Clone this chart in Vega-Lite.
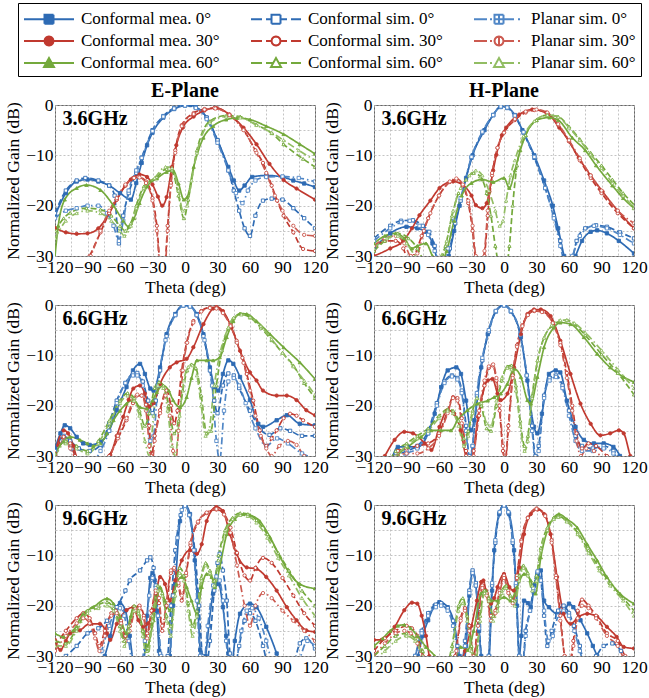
{
"$schema":"https://vega.github.io/schema/vega-lite/v6.json",
"background":"white",
"padding":{"left":4,"right":1,"top":2,"bottom":2},
"config":{
 "font":"Liberation Serif",
 "view":{"stroke":"#666","strokeWidth":1},
 "axis":{"labelFont":"Liberation Serif","labelFontSize":17.5,"labelColor":"black","titleFont":"Liberation Serif","titleFontSize":17.5,"titleFontWeight":"normal","titleColor":"black","gridColor":"#b5b5b5","gridDash":[2,2],"gridWidth":0.8,"domain":false,"ticks":false,"labelPadding":2,"titlePadding":3,"labelFlush":false,"labelOverlap":false}
},
"datasets":{
 "panels":[{"p":0,"plane":"E-Plane","freq":"3.6GHz"},{"p":1,"plane":"H-Plane","freq":"3.6GHz"},{"p":2,"plane":"E-Plane","freq":"6.6GHz"},{"p":3,"plane":"H-Plane","freq":"6.6GHz"},{"p":4,"plane":"E-Plane","freq":"9.6GHz"},{"p":5,"plane":"H-Plane","freq":"9.6GHz"}],
 "series":[{"s":0,"name":"Conformal mea. 0°","nm":"m0"},{"s":1,"name":"Conformal sim. 0°","nm":"c0"},{"s":2,"name":"Planar sim. 0°","nm":"p0"},{"s":3,"name":"Conformal mea. 30°","nm":"m30"},{"s":4,"name":"Conformal sim. 30°","nm":"c30"},{"s":5,"name":"Planar sim. 30°","nm":"p30"},{"s":6,"name":"Conformal mea. 60°","nm":"m60"},{"s":7,"name":"Conformal sim. 60°","nm":"c60"},{"s":8,"name":"Planar sim. 60°","nm":"p60"}],
 "pts":[
{"p":0,"s":0,"t":-120,"g":-22},{"p":0,"s":0,"t":-110,"g":-17.5},{"p":0,"s":0,"t":-100,"g":-15.2},{"p":0,"s":0,"t":-90,"g":-14.8},{"p":0,"s":0,"t":-80,"g":-15.2},{"p":0,"s":0,"t":-70,"g":-16},{"p":0,"s":0,"t":-60,"g":-17.5},{"p":0,"s":0,"t":-50,"g":-18.8},{"p":0,"s":0,"t":-45,"g":-15.5},{"p":0,"s":0,"t":-40,"g":-11.5},{"p":0,"s":0,"t":-35,"g":-8},{"p":0,"s":0,"t":-30,"g":-5.5},{"p":0,"s":0,"t":-20,"g":-2.5},{"p":0,"s":0,"t":-10,"g":-0.8},{"p":0,"s":0,"t":0,"g":-0.1},{"p":0,"s":0,"t":5,"g":0},{"p":0,"s":0,"t":10,"g":-0.4},{"p":0,"s":0,"t":20,"g":-2.5},{"p":0,"s":0,"t":30,"g":-7},{"p":0,"s":0,"t":40,"g":-12.3},{"p":0,"s":0,"t":45,"g":-15},{"p":0,"s":0,"t":50,"g":-17},{"p":0,"s":0,"t":55,"g":-16},{"p":0,"s":0,"t":62,"g":-14.3},{"p":0,"s":0,"t":75,"g":-14},{"p":0,"s":0,"t":90,"g":-14.3},{"p":0,"s":0,"t":100,"g":-15},{"p":0,"s":0,"t":110,"g":-15.6},{"p":0,"s":0,"t":120,"g":-16.3},
{"p":0,"s":1,"t":-120,"g":-21.5},{"p":0,"s":1,"t":-110,"g":-17},{"p":0,"s":1,"t":-100,"g":-15},{"p":0,"s":1,"t":-92,"g":-14.5},{"p":0,"s":1,"t":-80,"g":-15},{"p":0,"s":1,"t":-70,"g":-16},{"p":0,"s":1,"t":-65,"g":-18},{"p":0,"s":1,"t":-61,"g":-27.5},{"p":0,"s":1,"t":-57,"g":-22},{"p":0,"s":1,"t":-52,"g":-17.5},{"p":0,"s":1,"t":-45,"g":-13.5},{"p":0,"s":1,"t":-40,"g":-10.5},{"p":0,"s":1,"t":-30,"g":-5},{"p":0,"s":1,"t":-20,"g":-2.2},{"p":0,"s":1,"t":-10,"g":-0.6},{"p":0,"s":1,"t":0,"g":0},{"p":0,"s":1,"t":10,"g":-0.5},{"p":0,"s":1,"t":20,"g":-2.5},{"p":0,"s":1,"t":30,"g":-7},{"p":0,"s":1,"t":40,"g":-13},{"p":0,"s":1,"t":45,"g":-17},{"p":0,"s":1,"t":50,"g":-21},{"p":0,"s":1,"t":55,"g":-24.5},{"p":0,"s":1,"t":60,"g":-26},{"p":0,"s":1,"t":65,"g":-22},{"p":0,"s":1,"t":72,"g":-19},{"p":0,"s":1,"t":80,"g":-18.6},{"p":0,"s":1,"t":90,"g":-18.8},{"p":0,"s":1,"t":100,"g":-20.5},{"p":0,"s":1,"t":110,"g":-22.5},{"p":0,"s":1,"t":120,"g":-24.5},
{"p":0,"s":2,"t":-120,"g":-22.5},{"p":0,"s":2,"t":-110,"g":-21},{"p":0,"s":2,"t":-100,"g":-20.5},{"p":0,"s":2,"t":-90,"g":-20},{"p":0,"s":2,"t":-80,"g":-20},{"p":0,"s":2,"t":-72,"g":-21.5},{"p":0,"s":2,"t":-66,"g":-24},{"p":0,"s":2,"t":-61,"g":-27},{"p":0,"s":2,"t":-57,"g":-23},{"p":0,"s":2,"t":-52,"g":-17},{"p":0,"s":2,"t":-45,"g":-13},{"p":0,"s":2,"t":-40,"g":-10.5},{"p":0,"s":2,"t":-30,"g":-5.2},{"p":0,"s":2,"t":-20,"g":-2.3},{"p":0,"s":2,"t":-10,"g":-0.7},{"p":0,"s":2,"t":0,"g":-0.1},{"p":0,"s":2,"t":10,"g":-0.6},{"p":0,"s":2,"t":20,"g":-2.8},{"p":0,"s":2,"t":30,"g":-7.5},{"p":0,"s":2,"t":40,"g":-13},{"p":0,"s":2,"t":47,"g":-17.5},{"p":0,"s":2,"t":53,"g":-19.5},{"p":0,"s":2,"t":58,"g":-17},{"p":0,"s":2,"t":65,"g":-15},{"p":0,"s":2,"t":75,"g":-14.3},{"p":0,"s":2,"t":90,"g":-14.2},{"p":0,"s":2,"t":105,"g":-14.5},{"p":0,"s":2,"t":120,"g":-15.2},
{"p":0,"s":3,"t":-120,"g":-24.4},{"p":0,"s":3,"t":-110,"g":-25.3},{"p":0,"s":3,"t":-100,"g":-25.6},{"p":0,"s":3,"t":-90,"g":-25.5},{"p":0,"s":3,"t":-80,"g":-24.5},{"p":0,"s":3,"t":-70,"g":-21.5},{"p":0,"s":3,"t":-63,"g":-18.8},{"p":0,"s":3,"t":-55,"g":-16},{"p":0,"s":3,"t":-50,"g":-14.8},{"p":0,"s":3,"t":-42,"g":-13.8},{"p":0,"s":3,"t":-35,"g":-14.3},{"p":0,"s":3,"t":-30,"g":-15.8},{"p":0,"s":3,"t":-25,"g":-18.2},{"p":0,"s":3,"t":-21,"g":-20},{"p":0,"s":3,"t":-17,"g":-18.3},{"p":0,"s":3,"t":-12,"g":-12.3},{"p":0,"s":3,"t":-8,"g":-8},{"p":0,"s":3,"t":-2,"g":-4.5},{"p":0,"s":3,"t":8,"g":-2.3},{"p":0,"s":3,"t":18,"g":-1.1},{"p":0,"s":3,"t":29,"g":-0.6},{"p":0,"s":3,"t":41,"g":-1.9},{"p":0,"s":3,"t":54,"g":-4.5},{"p":0,"s":3,"t":66,"g":-7.8},{"p":0,"s":3,"t":78,"g":-11.7},{"p":0,"s":3,"t":91,"g":-14.9},{"p":0,"s":3,"t":103,"g":-16.6},{"p":0,"s":3,"t":120,"g":-18.8},
{"p":0,"s":4,"t":-120,"g":-34},{"p":0,"s":4,"t":-95,"g":-33},{"p":0,"s":4,"t":-88,"g":-30},{"p":0,"s":4,"t":-78,"g":-25.3},{"p":0,"s":4,"t":-70,"g":-21.5},{"p":0,"s":4,"t":-63,"g":-18.8},{"p":0,"s":4,"t":-55,"g":-16},{"p":0,"s":4,"t":-48,"g":-14.5},{"p":0,"s":4,"t":-43,"g":-14.3},{"p":0,"s":4,"t":-36,"g":-15.2},{"p":0,"s":4,"t":-30,"g":-18.5},{"p":0,"s":4,"t":-26,"g":-24},{"p":0,"s":4,"t":-23,"g":-31},{"p":0,"s":4,"t":-19,"g":-32},{"p":0,"s":4,"t":-16,"g":-24},{"p":0,"s":4,"t":-13,"g":-15.5},{"p":0,"s":4,"t":-9,"g":-9},{"p":0,"s":4,"t":-3,"g":-4},{"p":0,"s":4,"t":8,"g":-1.6},{"p":0,"s":4,"t":18,"g":-0.8},{"p":0,"s":4,"t":27,"g":-0.6},{"p":0,"s":4,"t":41,"g":-1.9},{"p":0,"s":4,"t":54,"g":-4.9},{"p":0,"s":4,"t":65,"g":-9},{"p":0,"s":4,"t":72,"g":-11.5},{"p":0,"s":4,"t":80,"g":-16},{"p":0,"s":4,"t":85,"g":-19},{"p":0,"s":4,"t":91,"g":-22},{"p":0,"s":4,"t":100,"g":-25.3},{"p":0,"s":4,"t":109,"g":-28.6},{"p":0,"s":4,"t":120,"g":-29},
{"p":0,"s":5,"t":-120,"g":-35},{"p":0,"s":5,"t":-95,"g":-34},{"p":0,"s":5,"t":-87,"g":-30},{"p":0,"s":5,"t":-78,"g":-25},{"p":0,"s":5,"t":-70,"g":-21},{"p":0,"s":5,"t":-63,"g":-18.5},{"p":0,"s":5,"t":-55,"g":-15.8},{"p":0,"s":5,"t":-47,"g":-14.5},{"p":0,"s":5,"t":-42,"g":-14.4},{"p":0,"s":5,"t":-36,"g":-15.5},{"p":0,"s":5,"t":-30,"g":-19},{"p":0,"s":5,"t":-26,"g":-25},{"p":0,"s":5,"t":-23,"g":-32},{"p":0,"s":5,"t":-19,"g":-33},{"p":0,"s":5,"t":-16,"g":-25},{"p":0,"s":5,"t":-13,"g":-16},{"p":0,"s":5,"t":-9,"g":-9.5},{"p":0,"s":5,"t":-3,"g":-4.2},{"p":0,"s":5,"t":8,"g":-1.8},{"p":0,"s":5,"t":18,"g":-0.9},{"p":0,"s":5,"t":28,"g":-0.7},{"p":0,"s":5,"t":41,"g":-2},{"p":0,"s":5,"t":54,"g":-5},{"p":0,"s":5,"t":66,"g":-9.5},{"p":0,"s":5,"t":75,"g":-13.5},{"p":0,"s":5,"t":83,"g":-18},{"p":0,"s":5,"t":90,"g":-21},{"p":0,"s":5,"t":100,"g":-24},{"p":0,"s":5,"t":110,"g":-25.8},{"p":0,"s":5,"t":120,"g":-26},
{"p":0,"s":6,"t":-120,"g":-30},{"p":0,"s":6,"t":-117,"g":-24},{"p":0,"s":6,"t":-111,"g":-18.8},{"p":0,"s":6,"t":-100,"g":-16.5},{"p":0,"s":6,"t":-91,"g":-15.9},{"p":0,"s":6,"t":-78,"g":-16.9},{"p":0,"s":6,"t":-66,"g":-20},{"p":0,"s":6,"t":-57,"g":-23},{"p":0,"s":6,"t":-52,"g":-24.2},{"p":0,"s":6,"t":-47,"g":-22.5},{"p":0,"s":6,"t":-42,"g":-19.5},{"p":0,"s":6,"t":-35,"g":-16.2},{"p":0,"s":6,"t":-26,"g":-14.6},{"p":0,"s":6,"t":-17,"g":-13.3},{"p":0,"s":6,"t":-11,"g":-13},{"p":0,"s":6,"t":-6,"g":-15.6},{"p":0,"s":6,"t":-1,"g":-18.8},{"p":0,"s":6,"t":2,"g":-18.3},{"p":0,"s":6,"t":8,"g":-12.3},{"p":0,"s":6,"t":17,"g":-6.5},{"p":0,"s":6,"t":26,"g":-4.2},{"p":0,"s":6,"t":38,"g":-2.9},{"p":0,"s":6,"t":48,"g":-2.6},{"p":0,"s":6,"t":60,"g":-2.9},{"p":0,"s":6,"t":75,"g":-4.2},{"p":0,"s":6,"t":91,"g":-5.8},{"p":0,"s":6,"t":106,"g":-7.8},{"p":0,"s":6,"t":120,"g":-9.7},
{"p":0,"s":7,"t":-120,"g":-25},{"p":0,"s":7,"t":-112,"g":-22.5},{"p":0,"s":7,"t":-106,"g":-21.4},{"p":0,"s":7,"t":-91,"g":-20.5},{"p":0,"s":7,"t":-78,"g":-20.8},{"p":0,"s":7,"t":-68,"g":-22},{"p":0,"s":7,"t":-60,"g":-24},{"p":0,"s":7,"t":-55,"g":-25},{"p":0,"s":7,"t":-50,"g":-23.5},{"p":0,"s":7,"t":-45,"g":-20},{"p":0,"s":7,"t":-38,"g":-16.2},{"p":0,"s":7,"t":-26,"g":-14.3},{"p":0,"s":7,"t":-17,"g":-12.7},{"p":0,"s":7,"t":-12,"g":-13},{"p":0,"s":7,"t":-6,"g":-18},{"p":0,"s":7,"t":-1,"g":-22.5},{"p":0,"s":7,"t":3,"g":-18.8},{"p":0,"s":7,"t":11,"g":-9},{"p":0,"s":7,"t":23,"g":-3.2},{"p":0,"s":7,"t":38,"g":-2.1},{"p":0,"s":7,"t":51,"g":-2.3},{"p":0,"s":7,"t":66,"g":-3.9},{"p":0,"s":7,"t":80,"g":-5.6},{"p":0,"s":7,"t":91,"g":-7.8},{"p":0,"s":7,"t":109,"g":-10.7},{"p":0,"s":7,"t":120,"g":-12.3},
{"p":0,"s":8,"t":-120,"g":-26.5},{"p":0,"s":8,"t":-110,"g":-23},{"p":0,"s":8,"t":-100,"g":-21.5},{"p":0,"s":8,"t":-90,"g":-21},{"p":0,"s":8,"t":-78,"g":-21.5},{"p":0,"s":8,"t":-68,"g":-23},{"p":0,"s":8,"t":-60,"g":-25},{"p":0,"s":8,"t":-56,"g":-26},{"p":0,"s":8,"t":-50,"g":-24},{"p":0,"s":8,"t":-45,"g":-20.5},{"p":0,"s":8,"t":-38,"g":-16.5},{"p":0,"s":8,"t":-28,"g":-14.5},{"p":0,"s":8,"t":-18,"g":-12.3},{"p":0,"s":8,"t":-12,"g":-12.5},{"p":0,"s":8,"t":-6,"g":-17},{"p":0,"s":8,"t":-2,"g":-21},{"p":0,"s":8,"t":2,"g":-20},{"p":0,"s":8,"t":6,"g":-15},{"p":0,"s":8,"t":11,"g":-9.5},{"p":0,"s":8,"t":23,"g":-3.5},{"p":0,"s":8,"t":38,"g":-2.3},{"p":0,"s":8,"t":51,"g":-2.5},{"p":0,"s":8,"t":66,"g":-4},{"p":0,"s":8,"t":80,"g":-5.5},{"p":0,"s":8,"t":91,"g":-7},{"p":0,"s":8,"t":105,"g":-9},{"p":0,"s":8,"t":120,"g":-11},
{"p":1,"s":0,"t":-120,"g":-28.5},{"p":1,"s":0,"t":-105,"g":-25.5},{"p":1,"s":0,"t":-90,"g":-24.2},{"p":1,"s":0,"t":-80,"g":-24.5},{"p":1,"s":0,"t":-72,"g":-25.2},{"p":1,"s":0,"t":-66,"g":-27.5},{"p":1,"s":0,"t":-61,"g":-31},{"p":1,"s":0,"t":-55,"g":-33},{"p":1,"s":0,"t":-51,"g":-30},{"p":1,"s":0,"t":-46,"g":-25},{"p":1,"s":0,"t":-41,"g":-20},{"p":1,"s":0,"t":-35,"g":-14.5},{"p":1,"s":0,"t":-29,"g":-10},{"p":1,"s":0,"t":-18,"g":-5},{"p":1,"s":0,"t":-10,"g":-2},{"p":1,"s":0,"t":-3,"g":-0.3},{"p":1,"s":0,"t":3,"g":-0.5},{"p":1,"s":0,"t":10,"g":-2},{"p":1,"s":0,"t":17,"g":-5},{"p":1,"s":0,"t":28,"g":-10},{"p":1,"s":0,"t":37,"g":-15},{"p":1,"s":0,"t":45,"g":-20},{"p":1,"s":0,"t":50,"g":-24.5},{"p":1,"s":0,"t":55.5,"g":-30},{"p":1,"s":0,"t":60,"g":-33},{"p":1,"s":0,"t":66,"g":-30},{"p":1,"s":0,"t":72,"g":-27},{"p":1,"s":0,"t":80,"g":-25.2},{"p":1,"s":0,"t":86,"g":-24.9},{"p":1,"s":0,"t":95,"g":-25.5},{"p":1,"s":0,"t":106,"g":-27},{"p":1,"s":0,"t":120,"g":-29.5},
{"p":1,"s":1,"t":-120,"g":-26.5},{"p":1,"s":1,"t":-105,"g":-24},{"p":1,"s":1,"t":-95,"g":-23},{"p":1,"s":1,"t":-84,"g":-22.9},{"p":1,"s":1,"t":-75,"g":-24},{"p":1,"s":1,"t":-69,"g":-25.2},{"p":1,"s":1,"t":-64,"g":-28},{"p":1,"s":1,"t":-60,"g":-31},{"p":1,"s":1,"t":-55,"g":-32},{"p":1,"s":1,"t":-50,"g":-28.5},{"p":1,"s":1,"t":-45,"g":-23.5},{"p":1,"s":1,"t":-40,"g":-19},{"p":1,"s":1,"t":-30,"g":-10.5},{"p":1,"s":1,"t":-20,"g":-5.5},{"p":1,"s":1,"t":-10,"g":-2},{"p":1,"s":1,"t":-3,"g":-0.4},{"p":1,"s":1,"t":3,"g":-0.6},{"p":1,"s":1,"t":10,"g":-2.2},{"p":1,"s":1,"t":18,"g":-5.5},{"p":1,"s":1,"t":28,"g":-10.5},{"p":1,"s":1,"t":38,"g":-16.5},{"p":1,"s":1,"t":46,"g":-22},{"p":1,"s":1,"t":52,"g":-27},{"p":1,"s":1,"t":57,"g":-31},{"p":1,"s":1,"t":62,"g":-31},{"p":1,"s":1,"t":67,"g":-27},{"p":1,"s":1,"t":75,"g":-24.5},{"p":1,"s":1,"t":85,"g":-23.9},{"p":1,"s":1,"t":95,"g":-24.2},{"p":1,"s":1,"t":107,"g":-25.3},{"p":1,"s":1,"t":120,"g":-26.5},
{"p":1,"s":2,"t":-120,"g":-27},{"p":1,"s":2,"t":-105,"g":-24.5},{"p":1,"s":2,"t":-95,"g":-23.3},{"p":1,"s":2,"t":-87,"g":-23},{"p":1,"s":2,"t":-78,"g":-24},{"p":1,"s":2,"t":-70,"g":-25.8},{"p":1,"s":2,"t":-64,"g":-29},{"p":1,"s":2,"t":-58,"g":-32},{"p":1,"s":2,"t":-52,"g":-28.5},{"p":1,"s":2,"t":-46,"g":-23},{"p":1,"s":2,"t":-40,"g":-18.5},{"p":1,"s":2,"t":-30,"g":-10.3},{"p":1,"s":2,"t":-20,"g":-5.3},{"p":1,"s":2,"t":-10,"g":-2},{"p":1,"s":2,"t":-3,"g":-0.3},{"p":1,"s":2,"t":3,"g":-0.5},{"p":1,"s":2,"t":10,"g":-2.1},{"p":1,"s":2,"t":18,"g":-5.4},{"p":1,"s":2,"t":28,"g":-10.3},{"p":1,"s":2,"t":38,"g":-16.5},{"p":1,"s":2,"t":46,"g":-22.5},{"p":1,"s":2,"t":52,"g":-28},{"p":1,"s":2,"t":57,"g":-32},{"p":1,"s":2,"t":63,"g":-30},{"p":1,"s":2,"t":70,"g":-26},{"p":1,"s":2,"t":83,"g":-24},{"p":1,"s":2,"t":95,"g":-24.5},{"p":1,"s":2,"t":107,"g":-25.8},{"p":1,"s":2,"t":120,"g":-27.5},
{"p":1,"s":3,"t":-120,"g":-30},{"p":1,"s":3,"t":-105,"g":-28.5},{"p":1,"s":3,"t":-93,"g":-27},{"p":1,"s":3,"t":-85,"g":-24.5},{"p":1,"s":3,"t":-78,"g":-21.9},{"p":1,"s":3,"t":-68,"g":-19},{"p":1,"s":3,"t":-59.5,"g":-16.5},{"p":1,"s":3,"t":-47,"g":-15.2},{"p":1,"s":3,"t":-38,"g":-15.9},{"p":1,"s":3,"t":-30,"g":-18},{"p":1,"s":3,"t":-26,"g":-19.9},{"p":1,"s":3,"t":-20,"g":-20.5},{"p":1,"s":3,"t":-16,"g":-19.5},{"p":1,"s":3,"t":-13.5,"g":-17.2},{"p":1,"s":3,"t":-10,"g":-13},{"p":1,"s":3,"t":-7,"g":-9.9},{"p":1,"s":3,"t":-2,"g":-6},{"p":1,"s":3,"t":2,"g":-4.5},{"p":1,"s":3,"t":14,"g":-1.9},{"p":1,"s":3,"t":26,"g":-0.9},{"p":1,"s":3,"t":39,"g":-1.5},{"p":1,"s":3,"t":51,"g":-4.5},{"p":1,"s":3,"t":60,"g":-7.2},{"p":1,"s":3,"t":69,"g":-10.5},{"p":1,"s":3,"t":80,"g":-14},{"p":1,"s":3,"t":91,"g":-17.2},{"p":1,"s":3,"t":105,"g":-21},{"p":1,"s":3,"t":120,"g":-24.5},
{"p":1,"s":4,"t":-120,"g":-29},{"p":1,"s":4,"t":-110,"g":-27},{"p":1,"s":4,"t":-100,"g":-27},{"p":1,"s":4,"t":-93,"g":-28.5},{"p":1,"s":4,"t":-88,"g":-31},{"p":1,"s":4,"t":-83,"g":-30},{"p":1,"s":4,"t":-76,"g":-26},{"p":1,"s":4,"t":-70,"g":-22.5},{"p":1,"s":4,"t":-60,"g":-18},{"p":1,"s":4,"t":-50,"g":-15.3},{"p":1,"s":4,"t":-44,"g":-14.8},{"p":1,"s":4,"t":-38,"g":-16},{"p":1,"s":4,"t":-33,"g":-19.5},{"p":1,"s":4,"t":-29,"g":-25},{"p":1,"s":4,"t":-26,"g":-31},{"p":1,"s":4,"t":-22,"g":-33},{"p":1,"s":4,"t":-18,"g":-30},{"p":1,"s":4,"t":-15,"g":-22},{"p":1,"s":4,"t":-11,"g":-14},{"p":1,"s":4,"t":-6,"g":-8.5},{"p":1,"s":4,"t":0,"g":-5.5},{"p":1,"s":4,"t":10,"g":-3},{"p":1,"s":4,"t":20,"g":-1.5},{"p":1,"s":4,"t":28,"g":-1},{"p":1,"s":4,"t":40,"g":-1.6},{"p":1,"s":4,"t":50,"g":-4},{"p":1,"s":4,"t":60,"g":-7.2},{"p":1,"s":4,"t":70,"g":-11},{"p":1,"s":4,"t":80,"g":-14.5},{"p":1,"s":4,"t":90,"g":-17.5},{"p":1,"s":4,"t":105,"g":-21.5},{"p":1,"s":4,"t":120,"g":-24.5},
{"p":1,"s":5,"t":-120,"g":-28},{"p":1,"s":5,"t":-110,"g":-26.5},{"p":1,"s":5,"t":-100,"g":-26},{"p":1,"s":5,"t":-92,"g":-27.5},{"p":1,"s":5,"t":-86,"g":-30},{"p":1,"s":5,"t":-80,"g":-29.5},{"p":1,"s":5,"t":-74,"g":-25},{"p":1,"s":5,"t":-68,"g":-21.5},{"p":1,"s":5,"t":-60,"g":-18},{"p":1,"s":5,"t":-50,"g":-15.2},{"p":1,"s":5,"t":-44,"g":-14.6},{"p":1,"s":5,"t":-38,"g":-15.8},{"p":1,"s":5,"t":-33,"g":-19},{"p":1,"s":5,"t":-29,"g":-24},{"p":1,"s":5,"t":-26,"g":-30},{"p":1,"s":5,"t":-22,"g":-32},{"p":1,"s":5,"t":-18,"g":-29},{"p":1,"s":5,"t":-15,"g":-21},{"p":1,"s":5,"t":-11,"g":-13.5},{"p":1,"s":5,"t":-6,"g":-8.5},{"p":1,"s":5,"t":0,"g":-5.5},{"p":1,"s":5,"t":10,"g":-2.8},{"p":1,"s":5,"t":20,"g":-1.3},{"p":1,"s":5,"t":30,"g":-0.9},{"p":1,"s":5,"t":40,"g":-1.5},{"p":1,"s":5,"t":50,"g":-3.8},{"p":1,"s":5,"t":60,"g":-7},{"p":1,"s":5,"t":70,"g":-10.6},{"p":1,"s":5,"t":80,"g":-14},{"p":1,"s":5,"t":90,"g":-17},{"p":1,"s":5,"t":105,"g":-21},{"p":1,"s":5,"t":120,"g":-23.5},
{"p":1,"s":6,"t":-120,"g":-27.5},{"p":1,"s":6,"t":-110,"g":-26},{"p":1,"s":6,"t":-100,"g":-25.5},{"p":1,"s":6,"t":-92,"g":-26.5},{"p":1,"s":6,"t":-85,"g":-28.5},{"p":1,"s":6,"t":-80,"g":-28},{"p":1,"s":6,"t":-72,"g":-27.5},{"p":1,"s":6,"t":-66,"g":-30},{"p":1,"s":6,"t":-60,"g":-32},{"p":1,"s":6,"t":-53,"g":-29},{"p":1,"s":6,"t":-46,"g":-23},{"p":1,"s":6,"t":-39,"g":-18},{"p":1,"s":6,"t":-30,"g":-15.5},{"p":1,"s":6,"t":-20,"g":-14.8},{"p":1,"s":6,"t":-10,"g":-15.3},{"p":1,"s":6,"t":0,"g":-14.5},{"p":1,"s":6,"t":5,"g":-16.5},{"p":1,"s":6,"t":10,"g":-13},{"p":1,"s":6,"t":15,"g":-9},{"p":1,"s":6,"t":20,"g":-6},{"p":1,"s":6,"t":30,"g":-3},{"p":1,"s":6,"t":42,"g":-2.5},{"p":1,"s":6,"t":50,"g":-3},{"p":1,"s":6,"t":63,"g":-6.5},{"p":1,"s":6,"t":75,"g":-9},{"p":1,"s":6,"t":85,"g":-12},{"p":1,"s":6,"t":100,"g":-16},{"p":1,"s":6,"t":110,"g":-18.5},{"p":1,"s":6,"t":120,"g":-20.5},
{"p":1,"s":7,"t":-120,"g":-29},{"p":1,"s":7,"t":-110,"g":-27},{"p":1,"s":7,"t":-98,"g":-25.5},{"p":1,"s":7,"t":-88,"g":-26.5},{"p":1,"s":7,"t":-80,"g":-28.5},{"p":1,"s":7,"t":-74,"g":-31},{"p":1,"s":7,"t":-66,"g":-33},{"p":1,"s":7,"t":-58,"g":-31},{"p":1,"s":7,"t":-54,"g":-28},{"p":1,"s":7,"t":-48,"g":-22},{"p":1,"s":7,"t":-42,"g":-17.5},{"p":1,"s":7,"t":-35,"g":-14.8},{"p":1,"s":7,"t":-28,"g":-13.5},{"p":1,"s":7,"t":-22,"g":-14.2},{"p":1,"s":7,"t":-16,"g":-17.5},{"p":1,"s":7,"t":-12,"g":-22},{"p":1,"s":7,"t":-8,"g":-28},{"p":1,"s":7,"t":-4,"g":-32},{"p":1,"s":7,"t":2,"g":-32},{"p":1,"s":7,"t":5,"g":-28},{"p":1,"s":7,"t":8,"g":-20},{"p":1,"s":7,"t":12,"g":-12},{"p":1,"s":7,"t":20,"g":-6},{"p":1,"s":7,"t":30,"g":-3},{"p":1,"s":7,"t":40,"g":-2},{"p":1,"s":7,"t":50,"g":-2.3},{"p":1,"s":7,"t":60,"g":-4.3},{"p":1,"s":7,"t":70,"g":-6.8},{"p":1,"s":7,"t":80,"g":-9.5},{"p":1,"s":7,"t":90,"g":-12},{"p":1,"s":7,"t":100,"g":-14.8},{"p":1,"s":7,"t":110,"g":-17.5},{"p":1,"s":7,"t":120,"g":-19.8},
{"p":1,"s":8,"t":-120,"g":-28.5},{"p":1,"s":8,"t":-108,"g":-26.5},{"p":1,"s":8,"t":-98,"g":-26},{"p":1,"s":8,"t":-90,"g":-27.5},{"p":1,"s":8,"t":-82,"g":-30},{"p":1,"s":8,"t":-74,"g":-32},{"p":1,"s":8,"t":-66,"g":-32},{"p":1,"s":8,"t":-58,"g":-30},{"p":1,"s":8,"t":-53,"g":-27},{"p":1,"s":8,"t":-47,"g":-21},{"p":1,"s":8,"t":-40,"g":-16.5},{"p":1,"s":8,"t":-32,"g":-14},{"p":1,"s":8,"t":-26,"g":-13},{"p":1,"s":8,"t":-20,"g":-14},{"p":1,"s":8,"t":-14,"g":-17},{"p":1,"s":8,"t":-8,"g":-21},{"p":1,"s":8,"t":-4,"g":-24},{"p":1,"s":8,"t":-1,"g":-23},{"p":1,"s":8,"t":2,"g":-19},{"p":1,"s":8,"t":6,"g":-14},{"p":1,"s":8,"t":10,"g":-11},{"p":1,"s":8,"t":18,"g":-6.2},{"p":1,"s":8,"t":28,"g":-3.2},{"p":1,"s":8,"t":40,"g":-2},{"p":1,"s":8,"t":50,"g":-2.4},{"p":1,"s":8,"t":60,"g":-4.5},{"p":1,"s":8,"t":70,"g":-7},{"p":1,"s":8,"t":80,"g":-9.8},{"p":1,"s":8,"t":90,"g":-12.5},{"p":1,"s":8,"t":100,"g":-15.5},{"p":1,"s":8,"t":110,"g":-18},{"p":1,"s":8,"t":120,"g":-20.5},
{"p":2,"s":0,"t":-120,"g":-28.5},{"p":2,"s":0,"t":-115,"g":-25.5},{"p":2,"s":0,"t":-111,"g":-23.9},{"p":2,"s":0,"t":-106,"g":-24.5},{"p":2,"s":0,"t":-100,"g":-26.2},{"p":2,"s":0,"t":-94,"g":-27.5},{"p":2,"s":0,"t":-88,"g":-27.8},{"p":2,"s":0,"t":-78,"g":-27.2},{"p":2,"s":0,"t":-70,"g":-25},{"p":2,"s":0,"t":-63,"g":-20.9},{"p":2,"s":0,"t":-54,"g":-16.3},{"p":2,"s":0,"t":-48,"g":-13},{"p":2,"s":0,"t":-41.5,"g":-11.7},{"p":2,"s":0,"t":-37,"g":-13.7},{"p":2,"s":0,"t":-32,"g":-16.6},{"p":2,"s":0,"t":-29,"g":-17},{"p":2,"s":0,"t":-23,"g":-12.4},{"p":2,"s":0,"t":-17,"g":-5.8},{"p":2,"s":0,"t":-9,"g":-1.8},{"p":2,"s":0,"t":-1.5,"g":0},{"p":2,"s":0,"t":4.6,"g":-0.2},{"p":2,"s":0,"t":10.8,"g":-1.8},{"p":2,"s":0,"t":17,"g":-5.8},{"p":2,"s":0,"t":23,"g":-12.4},{"p":2,"s":0,"t":27.7,"g":-16.3},{"p":2,"s":0,"t":30.8,"g":-17},{"p":2,"s":0,"t":35,"g":-13.7},{"p":2,"s":0,"t":40,"g":-11},{"p":2,"s":0,"t":44.6,"g":-11.7},{"p":2,"s":0,"t":50.8,"g":-14.3},{"p":2,"s":0,"t":60,"g":-18.9},{"p":2,"s":0,"t":67.7,"g":-23.6},{"p":2,"s":0,"t":72,"g":-24.2},{"p":2,"s":0,"t":84.6,"g":-22.9},{"p":2,"s":0,"t":94,"g":-21.9},{"p":2,"s":0,"t":106,"g":-23.6},{"p":2,"s":0,"t":120,"g":-23.9},
{"p":2,"s":1,"t":-120,"g":-29},{"p":2,"s":1,"t":-112,"g":-26},{"p":2,"s":1,"t":-106,"g":-27},{"p":2,"s":1,"t":-98,"g":-28.5},{"p":2,"s":1,"t":-88,"g":-29},{"p":2,"s":1,"t":-78,"g":-27.8},{"p":2,"s":1,"t":-70,"g":-23.5},{"p":2,"s":1,"t":-63,"g":-19},{"p":2,"s":1,"t":-55,"g":-15.5},{"p":2,"s":1,"t":-48,"g":-13.6},{"p":2,"s":1,"t":-44,"g":-13.5},{"p":2,"s":1,"t":-39,"g":-15.2},{"p":2,"s":1,"t":-34,"g":-19},{"p":2,"s":1,"t":-30,"g":-21.5},{"p":2,"s":1,"t":-27,"g":-19},{"p":2,"s":1,"t":-23,"g":-13},{"p":2,"s":1,"t":-17,"g":-6.2},{"p":2,"s":1,"t":-9,"g":-2},{"p":2,"s":1,"t":-1.5,"g":-0.1},{"p":2,"s":1,"t":4.6,"g":-0.3},{"p":2,"s":1,"t":10.8,"g":-2},{"p":2,"s":1,"t":17,"g":-6.2},{"p":2,"s":1,"t":23,"g":-13},{"p":2,"s":1,"t":27,"g":-19},{"p":2,"s":1,"t":30,"g":-21.5},{"p":2,"s":1,"t":35,"g":-16},{"p":2,"s":1,"t":40,"g":-13.6},{"p":2,"s":1,"t":45,"g":-14},{"p":2,"s":1,"t":50,"g":-16.5},{"p":2,"s":1,"t":60,"g":-21},{"p":2,"s":1,"t":70,"g":-24.8},{"p":2,"s":1,"t":78,"g":-25.8},{"p":2,"s":1,"t":88,"g":-24.5},{"p":2,"s":1,"t":97,"g":-25},{"p":2,"s":1,"t":108,"g":-26},{"p":2,"s":1,"t":120,"g":-26},
{"p":2,"s":2,"t":-120,"g":-30},{"p":2,"s":2,"t":-112,"g":-27},{"p":2,"s":2,"t":-105,"g":-28.5},{"p":2,"s":2,"t":-95,"g":-31},{"p":2,"s":2,"t":-85,"g":-31},{"p":2,"s":2,"t":-78,"g":-29},{"p":2,"s":2,"t":-70,"g":-25},{"p":2,"s":2,"t":-63,"g":-19.5},{"p":2,"s":2,"t":-55,"g":-15.5},{"p":2,"s":2,"t":-48,"g":-14},{"p":2,"s":2,"t":-44,"g":-14},{"p":2,"s":2,"t":-39,"g":-16},{"p":2,"s":2,"t":-35,"g":-21},{"p":2,"s":2,"t":-32,"g":-27},{"p":2,"s":2,"t":-29,"g":-26},{"p":2,"s":2,"t":-25,"g":-16},{"p":2,"s":2,"t":-18,"g":-7},{"p":2,"s":2,"t":-9,"g":-2},{"p":2,"s":2,"t":-1.5,"g":-0.1},{"p":2,"s":2,"t":4.6,"g":-0.3},{"p":2,"s":2,"t":10.8,"g":-2},{"p":2,"s":2,"t":18,"g":-7},{"p":2,"s":2,"t":25,"g":-16},{"p":2,"s":2,"t":29,"g":-27},{"p":2,"s":2,"t":32,"g":-31},{"p":2,"s":2,"t":36,"g":-21},{"p":2,"s":2,"t":40,"g":-15.2},{"p":2,"s":2,"t":45,"g":-14.5},{"p":2,"s":2,"t":50,"g":-16},{"p":2,"s":2,"t":56,"g":-19.5},{"p":2,"s":2,"t":65,"g":-24.5},{"p":2,"s":2,"t":75,"g":-28},{"p":2,"s":2,"t":85,"g":-26.5},{"p":2,"s":2,"t":95,"g":-27.5},{"p":2,"s":2,"t":108,"g":-29.5},{"p":2,"s":2,"t":120,"g":-30.5},
{"p":2,"s":3,"t":-120,"g":-29.5},{"p":2,"s":3,"t":-112,"g":-24.9},{"p":2,"s":3,"t":-108,"g":-25.5},{"p":2,"s":3,"t":-103,"g":-28},{"p":2,"s":3,"t":-99,"g":-31},{"p":2,"s":3,"t":-90,"g":-33},{"p":2,"s":3,"t":-80,"g":-32},{"p":2,"s":3,"t":-69,"g":-29.8},{"p":2,"s":3,"t":-63,"g":-26},{"p":2,"s":3,"t":-57,"g":-22.2},{"p":2,"s":3,"t":-52,"g":-18.8},{"p":2,"s":3,"t":-47.7,"g":-16.6},{"p":2,"s":3,"t":-41.5,"g":-16},{"p":2,"s":3,"t":-37,"g":-17.6},{"p":2,"s":3,"t":-33,"g":-20.2},{"p":2,"s":3,"t":-29,"g":-19.5},{"p":2,"s":3,"t":-23,"g":-15.7},{"p":2,"s":3,"t":-14,"g":-12.4},{"p":2,"s":3,"t":-7.7,"g":-11.4},{"p":2,"s":3,"t":1.5,"g":-10.7},{"p":2,"s":3,"t":7.7,"g":-8.4},{"p":2,"s":3,"t":17,"g":-3.8},{"p":2,"s":3,"t":26,"g":-0.7},{"p":2,"s":3,"t":29,"g":-0.4},{"p":2,"s":3,"t":35,"g":-1.2},{"p":2,"s":3,"t":43,"g":-4.5},{"p":2,"s":3,"t":50.8,"g":-9.1},{"p":2,"s":3,"t":60,"g":-13.4},{"p":2,"s":3,"t":66,"g":-15},{"p":2,"s":3,"t":72,"g":-17},{"p":2,"s":3,"t":84.6,"g":-18},{"p":2,"s":3,"t":94,"g":-18},{"p":2,"s":3,"t":103,"g":-18.9},{"p":2,"s":3,"t":112,"g":-20.9},{"p":2,"s":3,"t":120,"g":-21.9},
{"p":2,"s":4,"t":-120,"g":-30},{"p":2,"s":4,"t":-112,"g":-26.2},{"p":2,"s":4,"t":-106,"g":-27.5},{"p":2,"s":4,"t":-101.5,"g":-30},{"p":2,"s":4,"t":-95,"g":-33},{"p":2,"s":4,"t":-80,"g":-33},{"p":2,"s":4,"t":-70,"g":-30},{"p":2,"s":4,"t":-62,"g":-26.5},{"p":2,"s":4,"t":-54,"g":-22.9},{"p":2,"s":4,"t":-48,"g":-19.5},{"p":2,"s":4,"t":-44.6,"g":-18},{"p":2,"s":4,"t":-40,"g":-18},{"p":2,"s":4,"t":-36,"g":-19.8},{"p":2,"s":4,"t":-33,"g":-24},{"p":2,"s":4,"t":-31,"g":-30},{"p":2,"s":4,"t":-28,"g":-26},{"p":2,"s":4,"t":-23,"g":-20.9},{"p":2,"s":4,"t":-17,"g":-17},{"p":2,"s":4,"t":-13,"g":-20},{"p":2,"s":4,"t":-10,"g":-23.5},{"p":2,"s":4,"t":-7,"g":-21},{"p":2,"s":4,"t":-3,"g":-13},{"p":2,"s":4,"t":1.5,"g":-7.5},{"p":2,"s":4,"t":7.7,"g":-3.2},{"p":2,"s":4,"t":15,"g":-1.2},{"p":2,"s":4,"t":23,"g":-0.5},{"p":2,"s":4,"t":29,"g":-0.6},{"p":2,"s":4,"t":35,"g":-1.5},{"p":2,"s":4,"t":42,"g":-4},{"p":2,"s":4,"t":47.7,"g":-7.1},{"p":2,"s":4,"t":53,"g":-10.5},{"p":2,"s":4,"t":57,"g":-13.7},{"p":2,"s":4,"t":63,"g":-19},{"p":2,"s":4,"t":69,"g":-24.9},{"p":2,"s":4,"t":75,"g":-28},{"p":2,"s":4,"t":80,"g":-26.5},{"p":2,"s":4,"t":84.6,"g":-24.9},{"p":2,"s":4,"t":91,"g":-22.5},{"p":2,"s":4,"t":97,"g":-21.6},{"p":2,"s":4,"t":103,"g":-22},{"p":2,"s":4,"t":109,"g":-22.9},{"p":2,"s":4,"t":120,"g":-24.2},
{"p":2,"s":5,"t":-120,"g":-31},{"p":2,"s":5,"t":-112,"g":-27},{"p":2,"s":5,"t":-106,"g":-28.5},{"p":2,"s":5,"t":-100,"g":-31},{"p":2,"s":5,"t":-90,"g":-34},{"p":2,"s":5,"t":-78,"g":-33},{"p":2,"s":5,"t":-70,"g":-30.5},{"p":2,"s":5,"t":-62,"g":-26},{"p":2,"s":5,"t":-54,"g":-22.5},{"p":2,"s":5,"t":-48,"g":-19},{"p":2,"s":5,"t":-44,"g":-17.8},{"p":2,"s":5,"t":-40,"g":-18},{"p":2,"s":5,"t":-36,"g":-21},{"p":2,"s":5,"t":-33,"g":-28},{"p":2,"s":5,"t":-31,"g":-33},{"p":2,"s":5,"t":-28,"g":-27},{"p":2,"s":5,"t":-23,"g":-21.5},{"p":2,"s":5,"t":-18,"g":-18},{"p":2,"s":5,"t":-14,"g":-22},{"p":2,"s":5,"t":-11,"g":-29},{"p":2,"s":5,"t":-9,"g":-32},{"p":2,"s":5,"t":-6,"g":-25},{"p":2,"s":5,"t":-2,"g":-13},{"p":2,"s":5,"t":2,"g":-7.5},{"p":2,"s":5,"t":7.7,"g":-3.5},{"p":2,"s":5,"t":15,"g":-1.3},{"p":2,"s":5,"t":23,"g":-0.6},{"p":2,"s":5,"t":29,"g":-0.7},{"p":2,"s":5,"t":35,"g":-1.6},{"p":2,"s":5,"t":42,"g":-4.2},{"p":2,"s":5,"t":48,"g":-7.5},{"p":2,"s":5,"t":54,"g":-11.5},{"p":2,"s":5,"t":60,"g":-17},{"p":2,"s":5,"t":65,"g":-22},{"p":2,"s":5,"t":70,"g":-26},{"p":2,"s":5,"t":75,"g":-28.5},{"p":2,"s":5,"t":80,"g":-30},{"p":2,"s":5,"t":87,"g":-28},{"p":2,"s":5,"t":95,"g":-27},{"p":2,"s":5,"t":103,"g":-27.8},{"p":2,"s":5,"t":110,"g":-30},{"p":2,"s":5,"t":120,"g":-31},
{"p":2,"s":6,"t":-120,"g":-29.5},{"p":2,"s":6,"t":-112,"g":-27},{"p":2,"s":6,"t":-106,"g":-26.2},{"p":2,"s":6,"t":-97,"g":-26.8},{"p":2,"s":6,"t":-90,"g":-27.5},{"p":2,"s":6,"t":-84.6,"g":-28},{"p":2,"s":6,"t":-78,"g":-27.5},{"p":2,"s":6,"t":-72,"g":-25.5},{"p":2,"s":6,"t":-66,"g":-22.9},{"p":2,"s":6,"t":-60,"g":-21},{"p":2,"s":6,"t":-54,"g":-19.6},{"p":2,"s":6,"t":-47.7,"g":-18.9},{"p":2,"s":6,"t":-41.5,"g":-20.3},{"p":2,"s":6,"t":-35,"g":-20.6},{"p":2,"s":6,"t":-30,"g":-19},{"p":2,"s":6,"t":-26,"g":-17.3},{"p":2,"s":6,"t":-20,"g":-16},{"p":2,"s":6,"t":-15,"g":-17},{"p":2,"s":6,"t":-11,"g":-18.9},{"p":2,"s":6,"t":-4.6,"g":-20.3},{"p":2,"s":6,"t":1.5,"g":-18.3},{"p":2,"s":6,"t":6,"g":-14.5},{"p":2,"s":6,"t":11,"g":-11},{"p":2,"s":6,"t":20,"g":-11},{"p":2,"s":6,"t":26,"g":-11},{"p":2,"s":6,"t":32,"g":-10.4},{"p":2,"s":6,"t":38.5,"g":-6.4},{"p":2,"s":6,"t":44.6,"g":-3.2},{"p":2,"s":6,"t":50.8,"g":-1.7},{"p":2,"s":6,"t":57,"g":-1.8},{"p":2,"s":6,"t":66,"g":-3.2},{"p":2,"s":6,"t":78.5,"g":-5.8},{"p":2,"s":6,"t":91,"g":-8.4},{"p":2,"s":6,"t":106,"g":-11.4},{"p":2,"s":6,"t":120,"g":-14.7},
{"p":2,"s":7,"t":-120,"g":-29.5},{"p":2,"s":7,"t":-110,"g":-27},{"p":2,"s":7,"t":-100,"g":-28},{"p":2,"s":7,"t":-90,"g":-29},{"p":2,"s":7,"t":-80,"g":-27},{"p":2,"s":7,"t":-70,"g":-23},{"p":2,"s":7,"t":-60,"g":-19},{"p":2,"s":7,"t":-53,"g":-17.5},{"p":2,"s":7,"t":-47,"g":-18.5},{"p":2,"s":7,"t":-42,"g":-21},{"p":2,"s":7,"t":-37,"g":-24},{"p":2,"s":7,"t":-33,"g":-21.5},{"p":2,"s":7,"t":-28,"g":-16.5},{"p":2,"s":7,"t":-24,"g":-15.3},{"p":2,"s":7,"t":-20,"g":-16},{"p":2,"s":7,"t":-15,"g":-20},{"p":2,"s":7,"t":-10,"g":-25.5},{"p":2,"s":7,"t":-6,"g":-23},{"p":2,"s":7,"t":-2,"g":-17},{"p":2,"s":7,"t":2,"g":-13},{"p":2,"s":7,"t":6,"g":-11.8},{"p":2,"s":7,"t":10,"g":-12.5},{"p":2,"s":7,"t":15,"g":-18},{"p":2,"s":7,"t":20,"g":-25.5},{"p":2,"s":7,"t":24,"g":-25},{"p":2,"s":7,"t":29,"g":-16},{"p":2,"s":7,"t":34,"g":-9},{"p":2,"s":7,"t":40,"g":-4.5},{"p":2,"s":7,"t":45,"g":-2.5},{"p":2,"s":7,"t":52,"g":-1.8},{"p":2,"s":7,"t":60,"g":-2.5},{"p":2,"s":7,"t":70,"g":-4.5},{"p":2,"s":7,"t":80,"g":-7},{"p":2,"s":7,"t":90,"g":-9.5},{"p":2,"s":7,"t":100,"g":-12},{"p":2,"s":7,"t":110,"g":-15.5},{"p":2,"s":7,"t":120,"g":-18.5},
{"p":2,"s":8,"t":-120,"g":-30},{"p":2,"s":8,"t":-110,"g":-27.5},{"p":2,"s":8,"t":-100,"g":-28.5},{"p":2,"s":8,"t":-90,"g":-29.5},{"p":2,"s":8,"t":-80,"g":-27.5},{"p":2,"s":8,"t":-70,"g":-23.5},{"p":2,"s":8,"t":-60,"g":-19.5},{"p":2,"s":8,"t":-53,"g":-18},{"p":2,"s":8,"t":-47,"g":-19},{"p":2,"s":8,"t":-42,"g":-22},{"p":2,"s":8,"t":-37,"g":-27},{"p":2,"s":8,"t":-33,"g":-30},{"p":2,"s":8,"t":-29,"g":-22},{"p":2,"s":8,"t":-25,"g":-16},{"p":2,"s":8,"t":-20,"g":-16.5},{"p":2,"s":8,"t":-16,"g":-21},{"p":2,"s":8,"t":-12,"g":-28},{"p":2,"s":8,"t":-9,"g":-30},{"p":2,"s":8,"t":-5,"g":-22},{"p":2,"s":8,"t":-1,"g":-15},{"p":2,"s":8,"t":3,"g":-12.3},{"p":2,"s":8,"t":7,"g":-12},{"p":2,"s":8,"t":11,"g":-14},{"p":2,"s":8,"t":15,"g":-20},{"p":2,"s":8,"t":19,"g":-26},{"p":2,"s":8,"t":22,"g":-25},{"p":2,"s":8,"t":27,"g":-16},{"p":2,"s":8,"t":33,"g":-9},{"p":2,"s":8,"t":40,"g":-4.5},{"p":2,"s":8,"t":45,"g":-2.5},{"p":2,"s":8,"t":52,"g":-1.9},{"p":2,"s":8,"t":60,"g":-2.4},{"p":2,"s":8,"t":70,"g":-4.2},{"p":2,"s":8,"t":80,"g":-6.8},{"p":2,"s":8,"t":90,"g":-9.5},{"p":2,"s":8,"t":100,"g":-12.2},{"p":2,"s":8,"t":110,"g":-15},{"p":2,"s":8,"t":120,"g":-17.8},
{"p":3,"s":0,"t":-120,"g":-34},{"p":3,"s":0,"t":-104,"g":-30.5},{"p":3,"s":0,"t":-98,"g":-28.2},{"p":3,"s":0,"t":-88.7,"g":-28.2},{"p":3,"s":0,"t":-79.5,"g":-28.2},{"p":3,"s":0,"t":-70,"g":-25.5},{"p":3,"s":0,"t":-64,"g":-21.6},{"p":3,"s":0,"t":-58,"g":-16.3},{"p":3,"s":0,"t":-52,"g":-13},{"p":3,"s":0,"t":-44,"g":-12.4},{"p":3,"s":0,"t":-39.7,"g":-13.7},{"p":3,"s":0,"t":-35,"g":-19},{"p":3,"s":0,"t":-30.5,"g":-24.9},{"p":3,"s":0,"t":-27.4,"g":-22.9},{"p":3,"s":0,"t":-21,"g":-12.4},{"p":3,"s":0,"t":-15,"g":-5.8},{"p":3,"s":0,"t":-7.5,"g":-1.2},{"p":3,"s":0,"t":0,"g":0},{"p":3,"s":0,"t":6.4,"g":-1.2},{"p":3,"s":0,"t":15.6,"g":-6.4},{"p":3,"s":0,"t":21.6,"g":-15},{"p":3,"s":0,"t":27.7,"g":-24.2},{"p":3,"s":0,"t":30.8,"g":-25.5},{"p":3,"s":0,"t":35,"g":-21.6},{"p":3,"s":0,"t":41.5,"g":-13.7},{"p":3,"s":0,"t":47.7,"g":-13},{"p":3,"s":0,"t":52,"g":-13.4},{"p":3,"s":0,"t":58,"g":-19},{"p":3,"s":0,"t":66,"g":-24.2},{"p":3,"s":0,"t":73.7,"g":-26.8},{"p":3,"s":0,"t":83,"g":-27.5},{"p":3,"s":0,"t":92,"g":-27.5},{"p":3,"s":0,"t":101,"g":-28.2},{"p":3,"s":0,"t":107,"g":-30},{"p":3,"s":0,"t":112,"g":-33},{"p":3,"s":0,"t":120,"g":-34},
{"p":3,"s":1,"t":-120,"g":-34},{"p":3,"s":1,"t":-100,"g":-30},{"p":3,"s":1,"t":-90,"g":-29},{"p":3,"s":1,"t":-80,"g":-28},{"p":3,"s":1,"t":-70,"g":-25},{"p":3,"s":1,"t":-62,"g":-19.5},{"p":3,"s":1,"t":-55,"g":-15.2},{"p":3,"s":1,"t":-48,"g":-14},{"p":3,"s":1,"t":-43,"g":-14.5},{"p":3,"s":1,"t":-39,"g":-17},{"p":3,"s":1,"t":-35,"g":-24},{"p":3,"s":1,"t":-32,"g":-30},{"p":3,"s":1,"t":-29,"g":-28},{"p":3,"s":1,"t":-25,"g":-18},{"p":3,"s":1,"t":-20,"g":-11},{"p":3,"s":1,"t":-14,"g":-5.3},{"p":3,"s":1,"t":-7.5,"g":-1.3},{"p":3,"s":1,"t":0,"g":-0.1},{"p":3,"s":1,"t":6.4,"g":-1.3},{"p":3,"s":1,"t":15,"g":-6},{"p":3,"s":1,"t":21,"g":-14},{"p":3,"s":1,"t":26,"g":-24},{"p":3,"s":1,"t":29,"g":-30},{"p":3,"s":1,"t":32,"g":-28},{"p":3,"s":1,"t":37,"g":-18},{"p":3,"s":1,"t":42,"g":-14.5},{"p":3,"s":1,"t":48,"g":-14},{"p":3,"s":1,"t":54,"g":-16},{"p":3,"s":1,"t":60,"g":-21},{"p":3,"s":1,"t":66,"g":-26},{"p":3,"s":1,"t":72,"g":-28},{"p":3,"s":1,"t":82,"g":-28.5},{"p":3,"s":1,"t":92,"g":-28},{"p":3,"s":1,"t":101,"g":-29},{"p":3,"s":1,"t":110,"g":-31},{"p":3,"s":1,"t":120,"g":-34},
{"p":3,"s":2,"t":-120,"g":-35},{"p":3,"s":2,"t":-100,"g":-31},{"p":3,"s":2,"t":-90,"g":-29.5},{"p":3,"s":2,"t":-80,"g":-28.5},{"p":3,"s":2,"t":-70,"g":-25.5},{"p":3,"s":2,"t":-62,"g":-20},{"p":3,"s":2,"t":-55,"g":-15.5},{"p":3,"s":2,"t":-48,"g":-14.2},{"p":3,"s":2,"t":-43,"g":-14.8},{"p":3,"s":2,"t":-39,"g":-17.5},{"p":3,"s":2,"t":-35,"g":-25},{"p":3,"s":2,"t":-32,"g":-31},{"p":3,"s":2,"t":-29,"g":-28},{"p":3,"s":2,"t":-25,"g":-17.5},{"p":3,"s":2,"t":-20,"g":-10.5},{"p":3,"s":2,"t":-14,"g":-5},{"p":3,"s":2,"t":-7.5,"g":-1.2},{"p":3,"s":2,"t":0,"g":-0.1},{"p":3,"s":2,"t":6.4,"g":-1.2},{"p":3,"s":2,"t":15,"g":-5.8},{"p":3,"s":2,"t":21,"g":-14},{"p":3,"s":2,"t":26,"g":-25},{"p":3,"s":2,"t":29,"g":-31},{"p":3,"s":2,"t":32,"g":-29},{"p":3,"s":2,"t":37,"g":-18.5},{"p":3,"s":2,"t":42,"g":-15},{"p":3,"s":2,"t":48,"g":-14.3},{"p":3,"s":2,"t":54,"g":-16.5},{"p":3,"s":2,"t":60,"g":-22},{"p":3,"s":2,"t":66,"g":-27},{"p":3,"s":2,"t":72,"g":-29},{"p":3,"s":2,"t":82,"g":-29},{"p":3,"s":2,"t":92,"g":-28.5},{"p":3,"s":2,"t":101,"g":-29.5},{"p":3,"s":2,"t":110,"g":-32},{"p":3,"s":2,"t":120,"g":-35},
{"p":3,"s":3,"t":-120,"g":-34},{"p":3,"s":3,"t":-110,"g":-30},{"p":3,"s":3,"t":-101,"g":-26.8},{"p":3,"s":3,"t":-92,"g":-25.2},{"p":3,"s":3,"t":-84,"g":-25.5},{"p":3,"s":3,"t":-73,"g":-27.5},{"p":3,"s":3,"t":-67,"g":-28.8},{"p":3,"s":3,"t":-59.6,"g":-24.2},{"p":3,"s":3,"t":-52,"g":-20.9},{"p":3,"s":3,"t":-46,"g":-21.6},{"p":3,"s":3,"t":-40,"g":-24.9},{"p":3,"s":3,"t":-35,"g":-30},{"p":3,"s":3,"t":-30,"g":-31},{"p":3,"s":3,"t":-24,"g":-22.2},{"p":3,"s":3,"t":-15,"g":-15},{"p":3,"s":3,"t":-10.6,"g":-14.7},{"p":3,"s":3,"t":-6,"g":-17.6},{"p":3,"s":3,"t":-3,"g":-18.9},{"p":3,"s":3,"t":3.2,"g":-17.6},{"p":3,"s":3,"t":9.3,"g":-12.4},{"p":3,"s":3,"t":15.6,"g":-5.8},{"p":3,"s":3,"t":21.6,"g":-1.8},{"p":3,"s":3,"t":27.7,"g":-0.9},{"p":3,"s":3,"t":34,"g":-0.9},{"p":3,"s":3,"t":43,"g":-2.2},{"p":3,"s":3,"t":52,"g":-7.1},{"p":3,"s":3,"t":61.4,"g":-13.7},{"p":3,"s":3,"t":70.6,"g":-19.6},{"p":3,"s":3,"t":80,"g":-23.6},{"p":3,"s":3,"t":89,"g":-25.9},{"p":3,"s":3,"t":98,"g":-25.5},{"p":3,"s":3,"t":106,"g":-24.9},{"p":3,"s":3,"t":110.5,"g":-25.5},{"p":3,"s":3,"t":116.6,"g":-30},{"p":3,"s":3,"t":120,"g":-32},
{"p":3,"s":4,"t":-120,"g":-35},{"p":3,"s":4,"t":-105,"g":-31},{"p":3,"s":4,"t":-98,"g":-29},{"p":3,"s":4,"t":-90,"g":-28.5},{"p":3,"s":4,"t":-80,"g":-28},{"p":3,"s":4,"t":-70,"g":-27.5},{"p":3,"s":4,"t":-60,"g":-25.5},{"p":3,"s":4,"t":-52,"g":-21},{"p":3,"s":4,"t":-47,"g":-18.3},{"p":3,"s":4,"t":-43,"g":-18.5},{"p":3,"s":4,"t":-39,"g":-22.5},{"p":3,"s":4,"t":-35,"g":-29},{"p":3,"s":4,"t":-32,"g":-32},{"p":3,"s":4,"t":-28,"g":-29},{"p":3,"s":4,"t":-23,"g":-22},{"p":3,"s":4,"t":-18,"g":-16},{"p":3,"s":4,"t":-14,"g":-12.5},{"p":3,"s":4,"t":-10.6,"g":-12},{"p":3,"s":4,"t":-7,"g":-15},{"p":3,"s":4,"t":-4,"g":-21},{"p":3,"s":4,"t":-1,"g":-29},{"p":3,"s":4,"t":1,"g":-31},{"p":3,"s":4,"t":4,"g":-24},{"p":3,"s":4,"t":8,"g":-14},{"p":3,"s":4,"t":12,"g":-8},{"p":3,"s":4,"t":17,"g":-4},{"p":3,"s":4,"t":22,"g":-2},{"p":3,"s":4,"t":28,"g":-1.2},{"p":3,"s":4,"t":35,"g":-1.3},{"p":3,"s":4,"t":45,"g":-3.5},{"p":3,"s":4,"t":52,"g":-7.5},{"p":3,"s":4,"t":58,"g":-13.5},{"p":3,"s":4,"t":63,"g":-20},{"p":3,"s":4,"t":67,"g":-25.5},{"p":3,"s":4,"t":72,"g":-28.5},{"p":3,"s":4,"t":78,"g":-27.5},{"p":3,"s":4,"t":85,"g":-28},{"p":3,"s":4,"t":95,"g":-30},{"p":3,"s":4,"t":105,"g":-32},{"p":3,"s":4,"t":120,"g":-35},
{"p":3,"s":5,"t":-120,"g":-36},{"p":3,"s":5,"t":-105,"g":-32},{"p":3,"s":5,"t":-98,"g":-30},{"p":3,"s":5,"t":-90,"g":-29.5},{"p":3,"s":5,"t":-80,"g":-29.5},{"p":3,"s":5,"t":-70,"g":-28.5},{"p":3,"s":5,"t":-60,"g":-26},{"p":3,"s":5,"t":-52,"g":-21.5},{"p":3,"s":5,"t":-47,"g":-18.5},{"p":3,"s":5,"t":-43,"g":-19},{"p":3,"s":5,"t":-39,"g":-23.5},{"p":3,"s":5,"t":-35,"g":-30},{"p":3,"s":5,"t":-32,"g":-33},{"p":3,"s":5,"t":-28,"g":-30},{"p":3,"s":5,"t":-23,"g":-21},{"p":3,"s":5,"t":-18,"g":-15},{"p":3,"s":5,"t":-14,"g":-12.2},{"p":3,"s":5,"t":-10,"g":-11.8},{"p":3,"s":5,"t":-7,"g":-14.5},{"p":3,"s":5,"t":-4,"g":-20},{"p":3,"s":5,"t":-1,"g":-28},{"p":3,"s":5,"t":1,"g":-32},{"p":3,"s":5,"t":4,"g":-25},{"p":3,"s":5,"t":8,"g":-14.5},{"p":3,"s":5,"t":12,"g":-8.3},{"p":3,"s":5,"t":17,"g":-4.2},{"p":3,"s":5,"t":22,"g":-2},{"p":3,"s":5,"t":28,"g":-1.1},{"p":3,"s":5,"t":35,"g":-1.4},{"p":3,"s":5,"t":45,"g":-3.6},{"p":3,"s":5,"t":52,"g":-8},{"p":3,"s":5,"t":58,"g":-14.5},{"p":3,"s":5,"t":63,"g":-21},{"p":3,"s":5,"t":67,"g":-27},{"p":3,"s":5,"t":71,"g":-30},{"p":3,"s":5,"t":76,"g":-28.5},{"p":3,"s":5,"t":83,"g":-29},{"p":3,"s":5,"t":92,"g":-30.5},{"p":3,"s":5,"t":105,"g":-33},{"p":3,"s":5,"t":120,"g":-36},
{"p":3,"s":6,"t":-120,"g":-36},{"p":3,"s":6,"t":-104,"g":-33},{"p":3,"s":6,"t":-98,"g":-30},{"p":3,"s":6,"t":-88.7,"g":-28.2},{"p":3,"s":6,"t":-76.5,"g":-26.2},{"p":3,"s":6,"t":-67,"g":-24.9},{"p":3,"s":6,"t":-58,"g":-24.9},{"p":3,"s":6,"t":-49,"g":-24.9},{"p":3,"s":6,"t":-42.8,"g":-22.9},{"p":3,"s":6,"t":-33.6,"g":-20.9},{"p":3,"s":6,"t":-24.4,"g":-19.6},{"p":3,"s":6,"t":-15,"g":-19},{"p":3,"s":6,"t":-9,"g":-18.3},{"p":3,"s":6,"t":-3,"g":-17.6},{"p":3,"s":6,"t":3,"g":-15.7},{"p":3,"s":6,"t":9.3,"g":-12.7},{"p":3,"s":6,"t":15.6,"g":-14.3},{"p":3,"s":6,"t":21.6,"g":-18.9},{"p":3,"s":6,"t":24.7,"g":-19.6},{"p":3,"s":6,"t":30.8,"g":-14.3},{"p":3,"s":6,"t":37,"g":-8.4},{"p":3,"s":6,"t":46,"g":-4.5},{"p":3,"s":6,"t":52,"g":-3.5},{"p":3,"s":6,"t":61.4,"g":-3.8},{"p":3,"s":6,"t":73.7,"g":-6.4},{"p":3,"s":6,"t":86,"g":-9.7},{"p":3,"s":6,"t":98,"g":-12.4},{"p":3,"s":6,"t":110.5,"g":-14.3},{"p":3,"s":6,"t":120,"g":-15.3},
{"p":3,"s":7,"t":-120,"g":-35},{"p":3,"s":7,"t":-106,"g":-31},{"p":3,"s":7,"t":-100,"g":-29},{"p":3,"s":7,"t":-90,"g":-27.5},{"p":3,"s":7,"t":-80,"g":-26},{"p":3,"s":7,"t":-70,"g":-24.5},{"p":3,"s":7,"t":-60,"g":-22},{"p":3,"s":7,"t":-52,"g":-20.7},{"p":3,"s":7,"t":-47,"g":-21},{"p":3,"s":7,"t":-42,"g":-23},{"p":3,"s":7,"t":-37,"g":-26.5},{"p":3,"s":7,"t":-33,"g":-25},{"p":3,"s":7,"t":-29,"g":-21},{"p":3,"s":7,"t":-25,"g":-18.5},{"p":3,"s":7,"t":-21,"g":-20},{"p":3,"s":7,"t":-16,"g":-24.5},{"p":3,"s":7,"t":-12,"g":-25},{"p":3,"s":7,"t":-7,"g":-20},{"p":3,"s":7,"t":-2,"g":-15},{"p":3,"s":7,"t":3,"g":-12.2},{"p":3,"s":7,"t":7,"g":-12},{"p":3,"s":7,"t":11,"g":-16},{"p":3,"s":7,"t":15,"g":-23},{"p":3,"s":7,"t":19,"g":-28},{"p":3,"s":7,"t":22,"g":-26},{"p":3,"s":7,"t":26,"g":-18},{"p":3,"s":7,"t":31,"g":-11},{"p":3,"s":7,"t":37,"g":-6.5},{"p":3,"s":7,"t":44,"g":-4.2},{"p":3,"s":7,"t":52,"g":-3.2},{"p":3,"s":7,"t":58,"g":-3},{"p":3,"s":7,"t":65,"g":-3.8},{"p":3,"s":7,"t":75,"g":-6},{"p":3,"s":7,"t":90,"g":-9.8},{"p":3,"s":7,"t":105,"g":-13.5},{"p":3,"s":7,"t":120,"g":-17.8},
{"p":3,"s":8,"t":-120,"g":-36},{"p":3,"s":8,"t":-106,"g":-32},{"p":3,"s":8,"t":-100,"g":-30},{"p":3,"s":8,"t":-90,"g":-28},{"p":3,"s":8,"t":-80,"g":-26.5},{"p":3,"s":8,"t":-70,"g":-25},{"p":3,"s":8,"t":-60,"g":-22.5},{"p":3,"s":8,"t":-52,"g":-21},{"p":3,"s":8,"t":-47,"g":-21.5},{"p":3,"s":8,"t":-42,"g":-24},{"p":3,"s":8,"t":-37,"g":-28},{"p":3,"s":8,"t":-33,"g":-26},{"p":3,"s":8,"t":-29,"g":-21.5},{"p":3,"s":8,"t":-25,"g":-18.5},{"p":3,"s":8,"t":-21,"g":-19.5},{"p":3,"s":8,"t":-16,"g":-23.5},{"p":3,"s":8,"t":-12,"g":-24},{"p":3,"s":8,"t":-7,"g":-19},{"p":3,"s":8,"t":-2,"g":-14.5},{"p":3,"s":8,"t":3,"g":-12.5},{"p":3,"s":8,"t":7,"g":-12.8},{"p":3,"s":8,"t":11,"g":-17},{"p":3,"s":8,"t":15,"g":-24},{"p":3,"s":8,"t":19,"g":-29},{"p":3,"s":8,"t":22,"g":-27},{"p":3,"s":8,"t":26,"g":-18.5},{"p":3,"s":8,"t":31,"g":-11},{"p":3,"s":8,"t":37,"g":-6.5},{"p":3,"s":8,"t":44,"g":-4},{"p":3,"s":8,"t":52,"g":-3},{"p":3,"s":8,"t":58,"g":-3},{"p":3,"s":8,"t":65,"g":-3.6},{"p":3,"s":8,"t":75,"g":-5.5},{"p":3,"s":8,"t":90,"g":-9},{"p":3,"s":8,"t":105,"g":-12.8},{"p":3,"s":8,"t":120,"g":-16.5},
{"p":4,"s":0,"t":-120,"g":-35},{"p":4,"s":0,"t":-80,"g":-34},{"p":4,"s":0,"t":-74,"g":-30},{"p":4,"s":0,"t":-69,"g":-26},{"p":4,"s":0,"t":-64,"g":-21},{"p":4,"s":0,"t":-60,"g":-19.5},{"p":4,"s":0,"t":-55,"g":-21},{"p":4,"s":0,"t":-51,"g":-26},{"p":4,"s":0,"t":-48,"g":-31},{"p":4,"s":0,"t":-44,"g":-34},{"p":4,"s":0,"t":-38,"g":-31},{"p":4,"s":0,"t":-35,"g":-22},{"p":4,"s":0,"t":-32,"g":-14.5},{"p":4,"s":0,"t":-30,"g":-13.5},{"p":4,"s":0,"t":-28,"g":-15},{"p":4,"s":0,"t":-26,"g":-21},{"p":4,"s":0,"t":-24,"g":-29},{"p":4,"s":0,"t":-21,"g":-34},{"p":4,"s":0,"t":-17,"g":-34},{"p":4,"s":0,"t":-14,"g":-30},{"p":4,"s":0,"t":-11,"g":-20},{"p":4,"s":0,"t":-9,"g":-15.7},{"p":4,"s":0,"t":-4.6,"g":-3.2},{"p":4,"s":0,"t":0,"g":0},{"p":4,"s":0,"t":4.6,"g":-1.8},{"p":4,"s":0,"t":9,"g":-11},{"p":4,"s":0,"t":12,"g":-21},{"p":4,"s":0,"t":14,"g":-28.8},{"p":4,"s":0,"t":16.5,"g":-32},{"p":4,"s":0,"t":19,"g":-30},{"p":4,"s":0,"t":22,"g":-24},{"p":4,"s":0,"t":26,"g":-17.6},{"p":4,"s":0,"t":31,"g":-15.7},{"p":4,"s":0,"t":35,"g":-20.3},{"p":4,"s":0,"t":38,"g":-26},{"p":4,"s":0,"t":40,"g":-29.5},{"p":4,"s":0,"t":43,"g":-32},{"p":4,"s":0,"t":46,"g":-27},{"p":4,"s":0,"t":50.8,"g":-21.6},{"p":4,"s":0,"t":60,"g":-19.6},{"p":4,"s":0,"t":66,"g":-20.3},{"p":4,"s":0,"t":75,"g":-24.2},{"p":4,"s":0,"t":84.6,"g":-29.5},{"p":4,"s":0,"t":90,"g":-33},{"p":4,"s":0,"t":100,"g":-35},{"p":4,"s":0,"t":120,"g":-35},
{"p":4,"s":1,"t":-120,"g":-31},{"p":4,"s":1,"t":-110,"g":-30},{"p":4,"s":1,"t":-100,"g":-28},{"p":4,"s":1,"t":-90,"g":-25.5},{"p":4,"s":1,"t":-80,"g":-24.5},{"p":4,"s":1,"t":-72,"g":-23},{"p":4,"s":1,"t":-63,"g":-20.3},{"p":4,"s":1,"t":-55,"g":-17},{"p":4,"s":1,"t":-51,"g":-15},{"p":4,"s":1,"t":-41.5,"g":-13},{"p":4,"s":1,"t":-35,"g":-11},{"p":4,"s":1,"t":-32,"g":-10.4},{"p":4,"s":1,"t":-29,"g":-12.5},{"p":4,"s":1,"t":-27,"g":-16},{"p":4,"s":1,"t":-25,"g":-22},{"p":4,"s":1,"t":-23,"g":-29.5},{"p":4,"s":1,"t":-20,"g":-33},{"p":4,"s":1,"t":-16,"g":-30},{"p":4,"s":1,"t":-13,"g":-20},{"p":4,"s":1,"t":-9,"g":-9},{"p":4,"s":1,"t":-4,"g":-2},{"p":4,"s":1,"t":0,"g":0},{"p":4,"s":1,"t":4,"g":-2},{"p":4,"s":1,"t":9,"g":-9},{"p":4,"s":1,"t":13,"g":-20},{"p":4,"s":1,"t":16,"g":-30},{"p":4,"s":1,"t":19,"g":-33},{"p":4,"s":1,"t":23,"g":-27},{"p":4,"s":1,"t":27,"g":-17},{"p":4,"s":1,"t":30,"g":-11.5},{"p":4,"s":1,"t":32,"g":-9.7},{"p":4,"s":1,"t":35,"g":-13},{"p":4,"s":1,"t":38.5,"g":-19},{"p":4,"s":1,"t":41.5,"g":-29.5},{"p":4,"s":1,"t":45,"g":-33},{"p":4,"s":1,"t":50,"g":-28},{"p":4,"s":1,"t":55,"g":-23},{"p":4,"s":1,"t":60,"g":-21.5},{"p":4,"s":1,"t":65,"g":-23},{"p":4,"s":1,"t":72,"g":-28},{"p":4,"s":1,"t":78,"g":-33},{"p":4,"s":1,"t":90,"g":-35},{"p":4,"s":1,"t":100,"g":-32},{"p":4,"s":1,"t":106,"g":-27.5},{"p":4,"s":1,"t":112,"g":-26.5},{"p":4,"s":1,"t":120,"g":-28.5},
{"p":4,"s":2,"t":-120,"g":-34},{"p":4,"s":2,"t":-85,"g":-33},{"p":4,"s":2,"t":-77,"g":-29},{"p":4,"s":2,"t":-70,"g":-24},{"p":4,"s":2,"t":-64,"g":-21},{"p":4,"s":2,"t":-60,"g":-20.5},{"p":4,"s":2,"t":-56,"g":-22},{"p":4,"s":2,"t":-52,"g":-27},{"p":4,"s":2,"t":-48,"g":-32},{"p":4,"s":2,"t":-42,"g":-33},{"p":4,"s":2,"t":-37,"g":-27},{"p":4,"s":2,"t":-33,"g":-18},{"p":4,"s":2,"t":-30,"g":-14.5},{"p":4,"s":2,"t":-27,"g":-16.5},{"p":4,"s":2,"t":-25,"g":-22},{"p":4,"s":2,"t":-22,"g":-30},{"p":4,"s":2,"t":-19,"g":-33},{"p":4,"s":2,"t":-14,"g":-31},{"p":4,"s":2,"t":-11,"g":-18},{"p":4,"s":2,"t":-7,"g":-6.5},{"p":4,"s":2,"t":-3,"g":-1},{"p":4,"s":2,"t":0,"g":-0.2},{"p":4,"s":2,"t":4,"g":-2},{"p":4,"s":2,"t":8,"g":-9},{"p":4,"s":2,"t":11,"g":-19},{"p":4,"s":2,"t":14,"g":-30},{"p":4,"s":2,"t":17,"g":-32},{"p":4,"s":2,"t":21,"g":-24},{"p":4,"s":2,"t":26,"g":-16},{"p":4,"s":2,"t":29,"g":-14.2},{"p":4,"s":2,"t":32,"g":-15},{"p":4,"s":2,"t":35,"g":-19},{"p":4,"s":2,"t":38,"g":-27},{"p":4,"s":2,"t":41,"g":-32},{"p":4,"s":2,"t":46,"g":-32},{"p":4,"s":2,"t":52,"g":-25},{"p":4,"s":2,"t":57,"g":-21},{"p":4,"s":2,"t":62,"g":-20.5},{"p":4,"s":2,"t":68,"g":-22.5},{"p":4,"s":2,"t":75,"g":-27},{"p":4,"s":2,"t":80,"g":-31},{"p":4,"s":2,"t":90,"g":-34},{"p":4,"s":2,"t":105,"g":-31},{"p":4,"s":2,"t":113,"g":-27},{"p":4,"s":2,"t":120,"g":-28},
{"p":4,"s":3,"t":-120,"g":-26.8},{"p":4,"s":3,"t":-115,"g":-28.8},{"p":4,"s":3,"t":-110,"g":-27},{"p":4,"s":3,"t":-106,"g":-25.5},{"p":4,"s":3,"t":-97,"g":-24.9},{"p":4,"s":3,"t":-88,"g":-23.6},{"p":4,"s":3,"t":-78.5,"g":-23.6},{"p":4,"s":3,"t":-72,"g":-25.5},{"p":4,"s":3,"t":-69,"g":-26.8},{"p":4,"s":3,"t":-63,"g":-23.6},{"p":4,"s":3,"t":-54,"g":-20.9},{"p":4,"s":3,"t":-47.7,"g":-20.3},{"p":4,"s":3,"t":-43,"g":-22.9},{"p":4,"s":3,"t":-38.5,"g":-24.2},{"p":4,"s":3,"t":-34,"g":-23.5},{"p":4,"s":3,"t":-29,"g":-20.9},{"p":4,"s":3,"t":-23,"g":-14.3},{"p":4,"s":3,"t":-18.5,"g":-15.7},{"p":4,"s":3,"t":-14,"g":-19},{"p":4,"s":3,"t":-9,"g":-15},{"p":4,"s":3,"t":-3,"g":-11},{"p":4,"s":3,"t":4.6,"g":-9},{"p":4,"s":3,"t":11,"g":-9.7},{"p":4,"s":3,"t":15.4,"g":-7.8},{"p":4,"s":3,"t":20,"g":-3.2},{"p":4,"s":3,"t":29,"g":-0.4},{"p":4,"s":3,"t":35,"g":-1.2},{"p":4,"s":3,"t":41.5,"g":-5.8},{"p":4,"s":3,"t":47.7,"g":-9.7},{"p":4,"s":3,"t":57,"g":-12.4},{"p":4,"s":3,"t":66,"g":-12.7},{"p":4,"s":3,"t":75,"g":-14.3},{"p":4,"s":3,"t":84.6,"g":-17},{"p":4,"s":3,"t":94,"g":-20.3},{"p":4,"s":3,"t":103,"g":-22.9},{"p":4,"s":3,"t":112,"g":-24.9},{"p":4,"s":3,"t":120,"g":-25.2},
{"p":4,"s":4,"t":-120,"g":-28},{"p":4,"s":4,"t":-110,"g":-25},{"p":4,"s":4,"t":-100,"g":-22.5},{"p":4,"s":4,"t":-94,"g":-21.5},{"p":4,"s":4,"t":-88,"g":-22.5},{"p":4,"s":4,"t":-83,"g":-25.5},{"p":4,"s":4,"t":-79,"g":-28},{"p":4,"s":4,"t":-74,"g":-25},{"p":4,"s":4,"t":-68,"g":-21.5},{"p":4,"s":4,"t":-64,"g":-21},{"p":4,"s":4,"t":-59,"g":-23},{"p":4,"s":4,"t":-55,"g":-26},{"p":4,"s":4,"t":-51,"g":-24},{"p":4,"s":4,"t":-46,"g":-20.5},{"p":4,"s":4,"t":-42,"g":-20},{"p":4,"s":4,"t":-38,"g":-22},{"p":4,"s":4,"t":-35,"g":-25.5},{"p":4,"s":4,"t":-31,"g":-21},{"p":4,"s":4,"t":-27,"g":-17.5},{"p":4,"s":4,"t":-24,"g":-19.5},{"p":4,"s":4,"t":-21,"g":-25},{"p":4,"s":4,"t":-17,"g":-20},{"p":4,"s":4,"t":-13,"g":-13.5},{"p":4,"s":4,"t":-10,"g":-12.8},{"p":4,"s":4,"t":-6,"g":-16},{"p":4,"s":4,"t":-3,"g":-19},{"p":4,"s":4,"t":1,"g":-14},{"p":4,"s":4,"t":5,"g":-8},{"p":4,"s":4,"t":12,"g":-3.5},{"p":4,"s":4,"t":20,"g":-1.6},{"p":4,"s":4,"t":29,"g":-0.9},{"p":4,"s":4,"t":36,"g":-1.8},{"p":4,"s":4,"t":42,"g":-4.5},{"p":4,"s":4,"t":48,"g":-9.5},{"p":4,"s":4,"t":55,"g":-14},{"p":4,"s":4,"t":60,"g":-15},{"p":4,"s":4,"t":65,"g":-12.5},{"p":4,"s":4,"t":72,"g":-10.5},{"p":4,"s":4,"t":80,"g":-11.5},{"p":4,"s":4,"t":90,"g":-14.5},{"p":4,"s":4,"t":100,"g":-18},{"p":4,"s":4,"t":110,"g":-21.5},{"p":4,"s":4,"t":120,"g":-24},
{"p":4,"s":5,"t":-120,"g":-29},{"p":4,"s":5,"t":-110,"g":-26},{"p":4,"s":5,"t":-100,"g":-23.5},{"p":4,"s":5,"t":-94,"g":-22.5},{"p":4,"s":5,"t":-88,"g":-23.5},{"p":4,"s":5,"t":-83,"g":-26.5},{"p":4,"s":5,"t":-79,"g":-29},{"p":4,"s":5,"t":-74,"g":-26},{"p":4,"s":5,"t":-68,"g":-22},{"p":4,"s":5,"t":-63,"g":-21.5},{"p":4,"s":5,"t":-59,"g":-23.5},{"p":4,"s":5,"t":-55,"g":-27},{"p":4,"s":5,"t":-51,"g":-25},{"p":4,"s":5,"t":-46,"g":-21},{"p":4,"s":5,"t":-42,"g":-20.5},{"p":4,"s":5,"t":-38,"g":-22.5},{"p":4,"s":5,"t":-35,"g":-26.5},{"p":4,"s":5,"t":-31,"g":-22},{"p":4,"s":5,"t":-27,"g":-17},{"p":4,"s":5,"t":-24,"g":-18.5},{"p":4,"s":5,"t":-21,"g":-24},{"p":4,"s":5,"t":-17,"g":-19},{"p":4,"s":5,"t":-13,"g":-13},{"p":4,"s":5,"t":-10,"g":-12.5},{"p":4,"s":5,"t":-6,"g":-15.5},{"p":4,"s":5,"t":-3,"g":-18},{"p":4,"s":5,"t":1,"g":-13.5},{"p":4,"s":5,"t":5,"g":-7.5},{"p":4,"s":5,"t":12,"g":-3.3},{"p":4,"s":5,"t":20,"g":-1.5},{"p":4,"s":5,"t":29,"g":-0.8},{"p":4,"s":5,"t":36,"g":-1.9},{"p":4,"s":5,"t":42,"g":-5.5},{"p":4,"s":5,"t":48,"g":-12},{"p":4,"s":5,"t":55,"g":-20},{"p":4,"s":5,"t":60,"g":-24},{"p":4,"s":5,"t":65,"g":-20},{"p":4,"s":5,"t":72,"g":-17.5},{"p":4,"s":5,"t":80,"g":-18.5},{"p":4,"s":5,"t":90,"g":-21},{"p":4,"s":5,"t":100,"g":-23},{"p":4,"s":5,"t":110,"g":-25},{"p":4,"s":5,"t":120,"g":-27},
{"p":4,"s":6,"t":-120,"g":-25.5},{"p":4,"s":6,"t":-112,"g":-26.2},{"p":4,"s":6,"t":-103,"g":-24.9},{"p":4,"s":6,"t":-94,"g":-21.6},{"p":4,"s":6,"t":-84.6,"g":-20.3},{"p":4,"s":6,"t":-72,"g":-18.6},{"p":4,"s":6,"t":-66,"g":-19.6},{"p":4,"s":6,"t":-60,"g":-22.2},{"p":4,"s":6,"t":-54,"g":-25.5},{"p":4,"s":6,"t":-50,"g":-22},{"p":4,"s":6,"t":-47.7,"g":-20.9},{"p":4,"s":6,"t":-43,"g":-21.5},{"p":4,"s":6,"t":-38.5,"g":-24.9},{"p":4,"s":6,"t":-35,"g":-28},{"p":4,"s":6,"t":-29,"g":-22.9},{"p":4,"s":6,"t":-23,"g":-16.3},{"p":4,"s":6,"t":-18.5,"g":-19},{"p":4,"s":6,"t":-14,"g":-20.9},{"p":4,"s":6,"t":-8,"g":-15.7},{"p":4,"s":6,"t":-3,"g":-14.3},{"p":4,"s":6,"t":1.5,"g":-16.3},{"p":4,"s":6,"t":6,"g":-19},{"p":4,"s":6,"t":11,"g":-21.6},{"p":4,"s":6,"t":15.4,"g":-16.3},{"p":4,"s":6,"t":20,"g":-13.7},{"p":4,"s":6,"t":24.6,"g":-14.3},{"p":4,"s":6,"t":27.7,"g":-16.3},{"p":4,"s":6,"t":32,"g":-12.4},{"p":4,"s":6,"t":38.5,"g":-5.8},{"p":4,"s":6,"t":46,"g":-2.8},{"p":4,"s":6,"t":54,"g":-1.8},{"p":4,"s":6,"t":60,"g":-2},{"p":4,"s":6,"t":69,"g":-3.2},{"p":4,"s":6,"t":78.5,"g":-6.4},{"p":4,"s":6,"t":88,"g":-10.4},{"p":4,"s":6,"t":97,"g":-13.7},{"p":4,"s":6,"t":106,"g":-15.7},{"p":4,"s":6,"t":120,"g":-16.6},
{"p":4,"s":7,"t":-120,"g":-27},{"p":4,"s":7,"t":-110,"g":-27.5},{"p":4,"s":7,"t":-100,"g":-24.5},{"p":4,"s":7,"t":-90,"g":-21},{"p":4,"s":7,"t":-80,"g":-19.8},{"p":4,"s":7,"t":-72,"g":-19.3},{"p":4,"s":7,"t":-66,"g":-20.5},{"p":4,"s":7,"t":-60,"g":-24},{"p":4,"s":7,"t":-56,"g":-27},{"p":4,"s":7,"t":-52,"g":-24},{"p":4,"s":7,"t":-47,"g":-20},{"p":4,"s":7,"t":-43,"g":-21},{"p":4,"s":7,"t":-39,"g":-25},{"p":4,"s":7,"t":-35,"g":-29},{"p":4,"s":7,"t":-30,"g":-22},{"p":4,"s":7,"t":-25,"g":-16},{"p":4,"s":7,"t":-21,"g":-17.5},{"p":4,"s":7,"t":-17,"g":-22},{"p":4,"s":7,"t":-13,"g":-24},{"p":4,"s":7,"t":-9,"g":-17},{"p":4,"s":7,"t":-5,"g":-12.5},{"p":4,"s":7,"t":-1,"g":-14},{"p":4,"s":7,"t":3,"g":-19.5},{"p":4,"s":7,"t":7,"g":-24},{"p":4,"s":7,"t":11,"g":-21},{"p":4,"s":7,"t":15,"g":-14.5},{"p":4,"s":7,"t":19,"g":-11.5},{"p":4,"s":7,"t":23,"g":-13},{"p":4,"s":7,"t":27,"g":-15},{"p":4,"s":7,"t":31,"g":-10},{"p":4,"s":7,"t":37,"g":-5},{"p":4,"s":7,"t":44,"g":-2.5},{"p":4,"s":7,"t":51,"g":-1.6},{"p":4,"s":7,"t":58,"g":-1.8},{"p":4,"s":7,"t":66,"g":-3},{"p":4,"s":7,"t":76,"g":-5.8},{"p":4,"s":7,"t":86,"g":-9.5},{"p":4,"s":7,"t":96,"g":-13},{"p":4,"s":7,"t":108,"g":-17},{"p":4,"s":7,"t":120,"g":-20},
{"p":4,"s":8,"t":-120,"g":-28},{"p":4,"s":8,"t":-110,"g":-28},{"p":4,"s":8,"t":-100,"g":-25},{"p":4,"s":8,"t":-90,"g":-21.5},{"p":4,"s":8,"t":-80,"g":-20.5},{"p":4,"s":8,"t":-72,"g":-20},{"p":4,"s":8,"t":-66,"g":-21},{"p":4,"s":8,"t":-60,"g":-25},{"p":4,"s":8,"t":-56,"g":-28},{"p":4,"s":8,"t":-52,"g":-25},{"p":4,"s":8,"t":-47,"g":-21},{"p":4,"s":8,"t":-43,"g":-21.5},{"p":4,"s":8,"t":-39,"g":-26},{"p":4,"s":8,"t":-35,"g":-31},{"p":4,"s":8,"t":-30,"g":-23},{"p":4,"s":8,"t":-25,"g":-17},{"p":4,"s":8,"t":-21,"g":-18},{"p":4,"s":8,"t":-17,"g":-23},{"p":4,"s":8,"t":-13,"g":-26},{"p":4,"s":8,"t":-9,"g":-18},{"p":4,"s":8,"t":-5,"g":-13.5},{"p":4,"s":8,"t":-1,"g":-15},{"p":4,"s":8,"t":3,"g":-21},{"p":4,"s":8,"t":7,"g":-26},{"p":4,"s":8,"t":11,"g":-22},{"p":4,"s":8,"t":15,"g":-15},{"p":4,"s":8,"t":19,"g":-12},{"p":4,"s":8,"t":23,"g":-13.5},{"p":4,"s":8,"t":27,"g":-16},{"p":4,"s":8,"t":31,"g":-11},{"p":4,"s":8,"t":37,"g":-5.5},{"p":4,"s":8,"t":44,"g":-2.8},{"p":4,"s":8,"t":51,"g":-2},{"p":4,"s":8,"t":58,"g":-2.2},{"p":4,"s":8,"t":66,"g":-3.5},{"p":4,"s":8,"t":76,"g":-6.5},{"p":4,"s":8,"t":86,"g":-10.5},{"p":4,"s":8,"t":96,"g":-14},{"p":4,"s":8,"t":108,"g":-18.5},{"p":4,"s":8,"t":120,"g":-22},
{"p":5,"s":0,"t":-120,"g":-36},{"p":5,"s":0,"t":-85,"g":-34},{"p":5,"s":0,"t":-79.5,"g":-30},{"p":5,"s":0,"t":-75,"g":-26},{"p":5,"s":0,"t":-70,"g":-22.9},{"p":5,"s":0,"t":-64,"g":-20},{"p":5,"s":0,"t":-59.6,"g":-19.3},{"p":5,"s":0,"t":-52,"g":-20.3},{"p":5,"s":0,"t":-46,"g":-23.6},{"p":5,"s":0,"t":-41,"g":-30},{"p":5,"s":0,"t":-38,"g":-32},{"p":5,"s":0,"t":-35,"g":-28},{"p":5,"s":0,"t":-32,"g":-18},{"p":5,"s":0,"t":-29,"g":-13.4},{"p":5,"s":0,"t":-26,"g":-16},{"p":5,"s":0,"t":-23,"g":-25},{"p":5,"s":0,"t":-21,"g":-30},{"p":5,"s":0,"t":-18,"g":-34},{"p":5,"s":0,"t":-15,"g":-33},{"p":5,"s":0,"t":-13.6,"g":-30},{"p":5,"s":0,"t":-11,"g":-17},{"p":5,"s":0,"t":-9,"g":-9},{"p":5,"s":0,"t":-4.4,"g":-1.8},{"p":5,"s":0,"t":0,"g":0},{"p":5,"s":0,"t":4.7,"g":-1.8},{"p":5,"s":0,"t":9.3,"g":-9},{"p":5,"s":0,"t":12,"g":-20},{"p":5,"s":0,"t":14,"g":-30},{"p":5,"s":0,"t":16,"g":-26},{"p":5,"s":0,"t":18.5,"g":-19},{"p":5,"s":0,"t":22,"g":-19.5},{"p":5,"s":0,"t":24.7,"g":-20.3},{"p":5,"s":0,"t":28,"g":-16},{"p":5,"s":0,"t":31,"g":-13.7},{"p":5,"s":0,"t":34,"g":-13},{"p":5,"s":0,"t":37,"g":-19},{"p":5,"s":0,"t":41.5,"g":-20.3},{"p":5,"s":0,"t":49,"g":-21.6},{"p":5,"s":0,"t":55,"g":-21.3},{"p":5,"s":0,"t":60,"g":-19.6},{"p":5,"s":0,"t":64,"g":-20.3},{"p":5,"s":0,"t":70.6,"g":-22.9},{"p":5,"s":0,"t":76.8,"g":-25.5},{"p":5,"s":0,"t":82,"g":-28},{"p":5,"s":0,"t":86,"g":-30},{"p":5,"s":0,"t":92,"g":-33},{"p":5,"s":0,"t":120,"g":-36},
{"p":5,"s":1,"t":-120,"g":-36},{"p":5,"s":1,"t":-88,"g":-34},{"p":5,"s":1,"t":-82,"g":-30},{"p":5,"s":1,"t":-76,"g":-25},{"p":5,"s":1,"t":-70,"g":-21.5},{"p":5,"s":1,"t":-63,"g":-19.8},{"p":5,"s":1,"t":-58,"g":-19.5},{"p":5,"s":1,"t":-52,"g":-20.5},{"p":5,"s":1,"t":-47,"g":-23},{"p":5,"s":1,"t":-43,"g":-28},{"p":5,"s":1,"t":-40,"g":-32},{"p":5,"s":1,"t":-36,"g":-27},{"p":5,"s":1,"t":-32,"g":-17},{"p":5,"s":1,"t":-29,"g":-13},{"p":5,"s":1,"t":-26,"g":-15.5},{"p":5,"s":1,"t":-23,"g":-24},{"p":5,"s":1,"t":-20,"g":-32},{"p":5,"s":1,"t":-17,"g":-33},{"p":5,"s":1,"t":-14,"g":-30},{"p":5,"s":1,"t":-11,"g":-16},{"p":5,"s":1,"t":-8,"g":-7.5},{"p":5,"s":1,"t":-4,"g":-1.5},{"p":5,"s":1,"t":0,"g":0},{"p":5,"s":1,"t":4,"g":-1.5},{"p":5,"s":1,"t":8,"g":-7.5},{"p":5,"s":1,"t":11,"g":-16},{"p":5,"s":1,"t":14,"g":-30},{"p":5,"s":1,"t":17,"g":-32},{"p":5,"s":1,"t":20,"g":-25},{"p":5,"s":1,"t":24,"g":-21},{"p":5,"s":1,"t":27,"g":-17},{"p":5,"s":1,"t":31,"g":-13.4},{"p":5,"s":1,"t":34,"g":-15},{"p":5,"s":1,"t":37,"g":-22},{"p":5,"s":1,"t":40,"g":-28},{"p":5,"s":1,"t":44,"g":-25},{"p":5,"s":1,"t":50,"g":-21},{"p":5,"s":1,"t":55,"g":-20},{"p":5,"s":1,"t":60,"g":-21.5},{"p":5,"s":1,"t":64.5,"g":-24},{"p":5,"s":1,"t":70,"g":-28},{"p":5,"s":1,"t":75,"g":-32},{"p":5,"s":1,"t":85,"g":-30},{"p":5,"s":1,"t":92,"g":-28},{"p":5,"s":1,"t":100,"g":-27.5},{"p":5,"s":1,"t":108,"g":-29},{"p":5,"s":1,"t":115,"g":-32},{"p":5,"s":1,"t":120,"g":-34},
{"p":5,"s":2,"t":-120,"g":-36},{"p":5,"s":2,"t":-88,"g":-34},{"p":5,"s":2,"t":-82,"g":-30},{"p":5,"s":2,"t":-76,"g":-25.5},{"p":5,"s":2,"t":-70,"g":-22},{"p":5,"s":2,"t":-63,"g":-20.3},{"p":5,"s":2,"t":-58,"g":-20},{"p":5,"s":2,"t":-52,"g":-21},{"p":5,"s":2,"t":-47,"g":-24},{"p":5,"s":2,"t":-43,"g":-29},{"p":5,"s":2,"t":-40,"g":-33},{"p":5,"s":2,"t":-36,"g":-28},{"p":5,"s":2,"t":-32,"g":-17.5},{"p":5,"s":2,"t":-29,"g":-13.5},{"p":5,"s":2,"t":-26,"g":-16},{"p":5,"s":2,"t":-23,"g":-24.5},{"p":5,"s":2,"t":-20,"g":-33},{"p":5,"s":2,"t":-17,"g":-34},{"p":5,"s":2,"t":-14,"g":-30},{"p":5,"s":2,"t":-11,"g":-15.5},{"p":5,"s":2,"t":-8,"g":-7},{"p":5,"s":2,"t":-4,"g":-1.4},{"p":5,"s":2,"t":0,"g":-0.1},{"p":5,"s":2,"t":4,"g":-1.4},{"p":5,"s":2,"t":8,"g":-7},{"p":5,"s":2,"t":11,"g":-15.5},{"p":5,"s":2,"t":14,"g":-30},{"p":5,"s":2,"t":17,"g":-33},{"p":5,"s":2,"t":20,"g":-26},{"p":5,"s":2,"t":24,"g":-21},{"p":5,"s":2,"t":27,"g":-16.5},{"p":5,"s":2,"t":31,"g":-13.2},{"p":5,"s":2,"t":34,"g":-15},{"p":5,"s":2,"t":37,"g":-21},{"p":5,"s":2,"t":41,"g":-27},{"p":5,"s":2,"t":45,"g":-26},{"p":5,"s":2,"t":50,"g":-22},{"p":5,"s":2,"t":55,"g":-21},{"p":5,"s":2,"t":60,"g":-22},{"p":5,"s":2,"t":65,"g":-25},{"p":5,"s":2,"t":70,"g":-29},{"p":5,"s":2,"t":75,"g":-32},{"p":5,"s":2,"t":120,"g":-36},
{"p":5,"s":3,"t":-120,"g":-26.8},{"p":5,"s":3,"t":-113,"g":-26.8},{"p":5,"s":3,"t":-101,"g":-24.2},{"p":5,"s":3,"t":-92,"g":-20.9},{"p":5,"s":3,"t":-85,"g":-19.4},{"p":5,"s":3,"t":-80,"g":-19.6},{"p":5,"s":3,"t":-76,"g":-22},{"p":5,"s":3,"t":-72,"g":-26},{"p":5,"s":3,"t":-69,"g":-30},{"p":5,"s":3,"t":-62,"g":-34},{"p":5,"s":3,"t":-48,"g":-34},{"p":5,"s":3,"t":-42,"g":-32},{"p":5,"s":3,"t":-36,"g":-29},{"p":5,"s":3,"t":-30,"g":-24},{"p":5,"s":3,"t":-25,"g":-19},{"p":5,"s":3,"t":-21,"g":-15.3},{"p":5,"s":3,"t":-19,"g":-15},{"p":5,"s":3,"t":-16.7,"g":-17},{"p":5,"s":3,"t":-12,"g":-19.6},{"p":5,"s":3,"t":-9,"g":-18.5},{"p":5,"s":3,"t":-6,"g":-16.3},{"p":5,"s":3,"t":0,"g":-13.7},{"p":5,"s":3,"t":5,"g":-16.3},{"p":5,"s":3,"t":9,"g":-17},{"p":5,"s":3,"t":14,"g":-12.4},{"p":5,"s":3,"t":18.5,"g":-5.8},{"p":5,"s":3,"t":24.7,"g":-1.8},{"p":5,"s":3,"t":31,"g":-0.9},{"p":5,"s":3,"t":37,"g":-1.8},{"p":5,"s":3,"t":43,"g":-5.8},{"p":5,"s":3,"t":49,"g":-14.3},{"p":5,"s":3,"t":55,"g":-21.6},{"p":5,"s":3,"t":61.4,"g":-23.6},{"p":5,"s":3,"t":69,"g":-22.2},{"p":5,"s":3,"t":76.8,"g":-21.6},{"p":5,"s":3,"t":86,"g":-22.2},{"p":5,"s":3,"t":95,"g":-24.2},{"p":5,"s":3,"t":104,"g":-26.2},{"p":5,"s":3,"t":110.5,"g":-28.2},{"p":5,"s":3,"t":120,"g":-28.5},
{"p":5,"s":4,"t":-120,"g":-29},{"p":5,"s":4,"t":-110,"g":-26.5},{"p":5,"s":4,"t":-100,"g":-25},{"p":5,"s":4,"t":-90,"g":-24},{"p":5,"s":4,"t":-85,"g":-24.5},{"p":5,"s":4,"t":-80,"g":-26},{"p":5,"s":4,"t":-75,"g":-30},{"p":5,"s":4,"t":-70,"g":-34},{"p":5,"s":4,"t":-50,"g":-34},{"p":5,"s":4,"t":-45,"g":-30},{"p":5,"s":4,"t":-40,"g":-22.5},{"p":5,"s":4,"t":-36,"g":-20.5},{"p":5,"s":4,"t":-32,"g":-24},{"p":5,"s":4,"t":-28,"g":-30},{"p":5,"s":4,"t":-24,"g":-23},{"p":5,"s":4,"t":-20,"g":-16},{"p":5,"s":4,"t":-16,"g":-17.5},{"p":5,"s":4,"t":-12,"g":-22},{"p":5,"s":4,"t":-8,"g":-21},{"p":5,"s":4,"t":-4,"g":-17},{"p":5,"s":4,"t":0,"g":-14},{"p":5,"s":4,"t":4,"g":-17},{"p":5,"s":4,"t":8,"g":-19},{"p":5,"s":4,"t":12,"g":-14},{"p":5,"s":4,"t":16,"g":-7},{"p":5,"s":4,"t":22,"g":-2.5},{"p":5,"s":4,"t":30,"g":-0.7},{"p":5,"s":4,"t":38,"g":-2},{"p":5,"s":4,"t":44,"g":-7},{"p":5,"s":4,"t":48,"g":-14},{"p":5,"s":4,"t":52,"g":-22},{"p":5,"s":4,"t":56,"g":-30},{"p":5,"s":4,"t":60,"g":-32},{"p":5,"s":4,"t":64,"g":-27},{"p":5,"s":4,"t":68,"g":-21},{"p":5,"s":4,"t":72,"g":-18.8},{"p":5,"s":4,"t":78,"g":-20},{"p":5,"s":4,"t":85,"g":-22},{"p":5,"s":4,"t":95,"g":-25.5},{"p":5,"s":4,"t":105,"g":-27},{"p":5,"s":4,"t":112,"g":-30},{"p":5,"s":4,"t":120,"g":-31},
{"p":5,"s":5,"t":-120,"g":-30},{"p":5,"s":5,"t":-110,"g":-27.5},{"p":5,"s":5,"t":-100,"g":-25.5},{"p":5,"s":5,"t":-92,"g":-25},{"p":5,"s":5,"t":-86,"g":-25.5},{"p":5,"s":5,"t":-80,"g":-27.5},{"p":5,"s":5,"t":-75,"g":-31},{"p":5,"s":5,"t":-70,"g":-34},{"p":5,"s":5,"t":-50,"g":-34},{"p":5,"s":5,"t":-44,"g":-29},{"p":5,"s":5,"t":-40,"g":-23},{"p":5,"s":5,"t":-36,"g":-21},{"p":5,"s":5,"t":-32,"g":-25},{"p":5,"s":5,"t":-28,"g":-31},{"p":5,"s":5,"t":-24,"g":-24},{"p":5,"s":5,"t":-20,"g":-16.5},{"p":5,"s":5,"t":-16,"g":-18},{"p":5,"s":5,"t":-12,"g":-23},{"p":5,"s":5,"t":-8,"g":-21.5},{"p":5,"s":5,"t":-4,"g":-17.5},{"p":5,"s":5,"t":0,"g":-14.5},{"p":5,"s":5,"t":4,"g":-17.5},{"p":5,"s":5,"t":8,"g":-19.5},{"p":5,"s":5,"t":12,"g":-14.5},{"p":5,"s":5,"t":16,"g":-7.3},{"p":5,"s":5,"t":22,"g":-2.6},{"p":5,"s":5,"t":30,"g":-0.8},{"p":5,"s":5,"t":38,"g":-2.2},{"p":5,"s":5,"t":44,"g":-7.5},{"p":5,"s":5,"t":48,"g":-14.5},{"p":5,"s":5,"t":52,"g":-23},{"p":5,"s":5,"t":56,"g":-30},{"p":5,"s":5,"t":60,"g":-33},{"p":5,"s":5,"t":64,"g":-28},{"p":5,"s":5,"t":68,"g":-22.5},{"p":5,"s":5,"t":72,"g":-20},{"p":5,"s":5,"t":78,"g":-20.5},{"p":5,"s":5,"t":85,"g":-22.5},{"p":5,"s":5,"t":95,"g":-26},{"p":5,"s":5,"t":105,"g":-28},{"p":5,"s":5,"t":112,"g":-31},{"p":5,"s":5,"t":120,"g":-32},
{"p":5,"s":6,"t":-120,"g":-28},{"p":5,"s":6,"t":-112,"g":-26.5},{"p":5,"s":6,"t":-105,"g":-25},{"p":5,"s":6,"t":-98,"g":-24},{"p":5,"s":6,"t":-92,"g":-23.8},{"p":5,"s":6,"t":-86,"g":-24.5},{"p":5,"s":6,"t":-80,"g":-26},{"p":5,"s":6,"t":-72,"g":-28.2},{"p":5,"s":6,"t":-64,"g":-30},{"p":5,"s":6,"t":-56,"g":-33},{"p":5,"s":6,"t":-48,"g":-33},{"p":5,"s":6,"t":-40,"g":-28.2},{"p":5,"s":6,"t":-33.6,"g":-28.8},{"p":5,"s":6,"t":-28,"g":-25},{"p":5,"s":6,"t":-21.3,"g":-17.6},{"p":5,"s":6,"t":-16.7,"g":-17},{"p":5,"s":6,"t":-12,"g":-19},{"p":5,"s":6,"t":-6,"g":-19},{"p":5,"s":6,"t":0,"g":-18.3},{"p":5,"s":6,"t":6,"g":-19},{"p":5,"s":6,"t":12,"g":-16.3},{"p":5,"s":6,"t":18.5,"g":-13.7},{"p":5,"s":6,"t":24.7,"g":-15},{"p":5,"s":6,"t":29,"g":-17.6},{"p":5,"s":6,"t":34,"g":-10.4},{"p":5,"s":6,"t":40,"g":-5.1},{"p":5,"s":6,"t":46,"g":-2.5},{"p":5,"s":6,"t":50.7,"g":-1.8},{"p":5,"s":6,"t":58,"g":-2.8},{"p":5,"s":6,"t":67.6,"g":-4.5},{"p":5,"s":6,"t":76.8,"g":-7.8},{"p":5,"s":6,"t":86,"g":-11},{"p":5,"s":6,"t":95,"g":-14.3},{"p":5,"s":6,"t":107,"g":-17.6},{"p":5,"s":6,"t":120,"g":-19.6},
{"p":5,"s":7,"t":-120,"g":-30},{"p":5,"s":7,"t":-110,"g":-28},{"p":5,"s":7,"t":-100,"g":-26},{"p":5,"s":7,"t":-90,"g":-25.5},{"p":5,"s":7,"t":-82,"g":-26.5},{"p":5,"s":7,"t":-75,"g":-29},{"p":5,"s":7,"t":-68,"g":-33},{"p":5,"s":7,"t":-55,"g":-33},{"p":5,"s":7,"t":-48,"g":-28},{"p":5,"s":7,"t":-42,"g":-20},{"p":5,"s":7,"t":-38,"g":-18.5},{"p":5,"s":7,"t":-34,"g":-22},{"p":5,"s":7,"t":-30,"g":-28},{"p":5,"s":7,"t":-26,"g":-30},{"p":5,"s":7,"t":-22,"g":-22},{"p":5,"s":7,"t":-18,"g":-17},{"p":5,"s":7,"t":-14,"g":-18.5},{"p":5,"s":7,"t":-10,"g":-22},{"p":5,"s":7,"t":-6,"g":-20},{"p":5,"s":7,"t":-2,"g":-17},{"p":5,"s":7,"t":2,"g":-16},{"p":5,"s":7,"t":6,"g":-18},{"p":5,"s":7,"t":10,"g":-19},{"p":5,"s":7,"t":14,"g":-14},{"p":5,"s":7,"t":18,"g":-12},{"p":5,"s":7,"t":22,"g":-13.5},{"p":5,"s":7,"t":26,"g":-16},{"p":5,"s":7,"t":30,"g":-14},{"p":5,"s":7,"t":34,"g":-8.5},{"p":5,"s":7,"t":40,"g":-4.5},{"p":5,"s":7,"t":46,"g":-2.5},{"p":5,"s":7,"t":50,"g":-2.2},{"p":5,"s":7,"t":58,"g":-3.2},{"p":5,"s":7,"t":68,"g":-5.5},{"p":5,"s":7,"t":78,"g":-9},{"p":5,"s":7,"t":88,"g":-12.5},{"p":5,"s":7,"t":98,"g":-15.5},{"p":5,"s":7,"t":110,"g":-18.5},{"p":5,"s":7,"t":120,"g":-21},
{"p":5,"s":8,"t":-120,"g":-31},{"p":5,"s":8,"t":-110,"g":-29},{"p":5,"s":8,"t":-100,"g":-27},{"p":5,"s":8,"t":-90,"g":-26},{"p":5,"s":8,"t":-82,"g":-27},{"p":5,"s":8,"t":-75,"g":-30},{"p":5,"s":8,"t":-68,"g":-34},{"p":5,"s":8,"t":-55,"g":-34},{"p":5,"s":8,"t":-48,"g":-29},{"p":5,"s":8,"t":-42,"g":-21},{"p":5,"s":8,"t":-38,"g":-19.5},{"p":5,"s":8,"t":-34,"g":-23},{"p":5,"s":8,"t":-30,"g":-29},{"p":5,"s":8,"t":-26,"g":-31},{"p":5,"s":8,"t":-22,"g":-23},{"p":5,"s":8,"t":-18,"g":-17.5},{"p":5,"s":8,"t":-14,"g":-19},{"p":5,"s":8,"t":-10,"g":-23},{"p":5,"s":8,"t":-6,"g":-21},{"p":5,"s":8,"t":-2,"g":-17.5},{"p":5,"s":8,"t":2,"g":-16.5},{"p":5,"s":8,"t":6,"g":-18.5},{"p":5,"s":8,"t":10,"g":-20},{"p":5,"s":8,"t":14,"g":-15},{"p":5,"s":8,"t":18,"g":-12.5},{"p":5,"s":8,"t":22,"g":-14},{"p":5,"s":8,"t":26,"g":-17},{"p":5,"s":8,"t":30,"g":-15},{"p":5,"s":8,"t":34,"g":-9},{"p":5,"s":8,"t":40,"g":-5},{"p":5,"s":8,"t":46,"g":-2.8},{"p":5,"s":8,"t":50,"g":-2.4},{"p":5,"s":8,"t":58,"g":-3.3},{"p":5,"s":8,"t":68,"g":-5.8},{"p":5,"s":8,"t":78,"g":-9.5},{"p":5,"s":8,"t":88,"g":-13},{"p":5,"s":8,"t":98,"g":-16},{"p":5,"s":8,"t":110,"g":-19},{"p":5,"s":8,"t":120,"g":-22}
 ]
},
"data":{"name":"pts"},
"transform":[
 {"lookup":"p","from":{"data":{"name":"panels"},"key":"p","fields":["plane","freq"]}},
 {"lookup":"s","from":{"data":{"name":"series"},"key":"s","fields":["name","nm"]}}
],
"facet":{
 "row":{"field":"freq","type":"nominal","sort":["3.6GHz","6.6GHz","9.6GHz"],"header":{"labels":false,"title":null}},
 "column":{"field":"plane","type":"nominal","sort":["E-Plane","H-Plane"],"header":{"title":null,"labelFont":"Liberation Serif","labelFontSize":20,"labelFontWeight":"bold","labelColor":"black","labelPadding":4}}
},
"spacing":{"row":49,"column":59},
"bounds":"flush",
"resolve":{"axis":{"x":"independent","y":"independent"}},
"spec":{
 "width":260,"height":151,
 "encoding":{
  "x":{"field":"t","type":"quantitative","scale":{"domain":[-120,120],"nice":false},"axis":{"title":"Theta (deg)","values":[-120,-105,-90,-75,-60,-45,-30,-15,0,15,30,45,60,75,90,105,120],"labelExpr":"datum.value % 30 == 0 ? datum.label : ''"}},
  "y":{"field":"g","type":"quantitative","scale":{"domain":[-30,0],"nice":false},"axis":{"title":"Normalized Gain (dB)","values":[-30,-25,-20,-15,-10,-5,0],"labelExpr":"datum.value % 10 == 0 ? datum.label : ''"}}
 },
 "layer":[
  {"mark":{"type":"line","clip":true,"interpolate":"monotone","strokeWidth":1.7},
   "encoding":{
    "color":{"field":"name","type":"nominal","scale":{"domain":["Conformal mea. 0°","Conformal sim. 0°","Planar sim. 0°","Conformal mea. 30°","Conformal sim. 30°","Planar sim. 30°","Conformal mea. 60°","Conformal sim. 60°","Planar sim. 60°"],"range":["#2e6bb4","#2e6bb4","#4f86c6","#c0392f","#c0392f","#cc5a50","#74a93c","#74a93c","#92bd63"]},
     "legend":{"orient":"none","legendX":-37,"legendY":-102,"direction":"horizontal","columns":3,"title":null,"labelFont":"Liberation Serif","labelFontSize":17,"labelColor":"black","symbolSize":400,"symbolStrokeWidth":2,"labelOffset":36,"columnPadding":27,"rowPadding":2,"padding":5,"strokeColor":"black",
      "encode":{"symbols":{"update":{
       "shape":{"signal":"['M-1,0H1.05M1.95,0H4M1.05,-0.45H1.95V0.45H1.05Z','M-1,0H0.1M0.5,0H1.05M1.95,0H2.6M3,0H4M1.05,-0.45H1.95V0.45H1.05Z','M-1,0H0.3M0.6,0H0.8M1.95,0H3M3.4,0H3.6M1.05,-0.45H1.95V0.45H1.05ZM1.5,-0.45V0.45M1.05,0H1.95','M-1,0H1.05M1.95,0H4M1.95,0L1.89,0.23L1.73,0.39L1.5,0.45L1.27,0.39L1.11,0.23L1.05,0L1.11,-0.23L1.27,-0.39L1.5,-0.45L1.73,-0.39L1.89,-0.23Z','M-1,0H0.1M0.5,0H1.05M1.95,0H2.6M3,0H4M1.95,0L1.89,0.23L1.73,0.39L1.5,0.45L1.27,0.39L1.11,0.23L1.05,0L1.11,-0.23L1.27,-0.39L1.5,-0.45L1.73,-0.39L1.89,-0.23Z','M-1,0H0.3M0.6,0H0.8M1.95,0H3M3.4,0H3.6M1.95,0L1.89,0.23L1.73,0.39L1.5,0.45L1.27,0.39L1.11,0.23L1.05,0L1.11,-0.23L1.27,-0.39L1.5,-0.45L1.73,-0.39L1.89,-0.23ZM1.5,-0.45V0.45','M-1,0H1.25M1.75,0H4M1.5,-0.5L2,0.4H1Z','M-1,0H0.1M0.5,0H1.25M1.75,0H2.6M3,0H4M1.5,-0.5L2,0.4H1Z','M-1,0H0.3M0.6,0H0.8M1.75,0H3M3.4,0H3.6M1.5,-0.5L2,0.4H1Z'][datum.index]"},
       "fill":{"signal":"['#2e6bb4','white','white','#c0392f','white','white','#74a93c','white','white'][datum.index]"},
       "strokeDash":{"value":[1,0]},
       "strokeWidth":{"value":2},
       "opacity":{"value":1}
      }}}
     }},
    "strokeDash":{"field":"nm","type":"nominal","legend":null,"scale":{"domain":["m0","c0","p0","m30","c30","p30","m60","c60","p60"],"range":[[1,0],[6,3],[7,3,1.5,3],[1,0],[6,3],[7,3,1.5,3],[1,0],[6,3],[7,3,1.5,3]]}}
   }},
  {"mark":{"type":"point","clip":true,"size":11,"strokeWidth":0.9,"opacity":1},
   "encoding":{
    "shape":{"field":"nm","type":"nominal","legend":null,"scale":{"domain":["m0","c0","p0","m30","c30","p30","m60","c60","p60"],"range":["square","square","square","circle","circle","circle","triangle-up","triangle-up","triangle-up"]}},
    "stroke":{"field":"nm","type":"nominal","legend":null,"scale":{"domain":["m0","c0","p0","m30","c30","p30","m60","c60","p60"],"range":["#2e6bb4","#2e6bb4","#4f86c6","#c0392f","#c0392f","#cc5a50","#74a93c","#74a93c","#92bd63"]}},
    "fill":{"field":"nm","type":"nominal","legend":null,"scale":{"domain":["m0","c0","p0","m30","c30","p30","m60","c60","p60"],"range":["#2e6bb4","white","white","#c0392f","white","white","#74a93c","white","white"]}}
   }},
  {"transform":[{"filter":"datum.s == 0 && datum.t == -120"}],
   "mark":{"type":"text","font":"Liberation Serif","fontSize":20,"fontWeight":"bold","align":"left","baseline":"alphabetic","color":"black"},
   "encoding":{"x":{"datum":-113,"type":"quantitative"},"y":{"datum":-3.9,"type":"quantitative"},"text":{"field":"freq","type":"nominal"}}}
 ]
}
}
